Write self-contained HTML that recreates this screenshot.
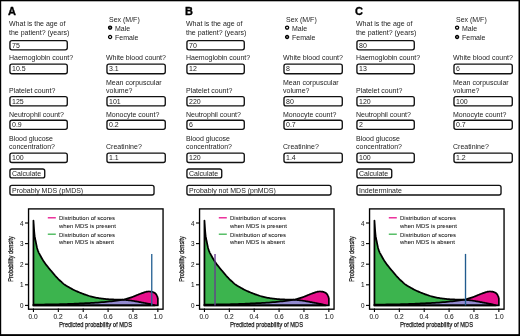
<!DOCTYPE html>
<html><head><meta charset="utf-8"><style>
html,body{margin:0;padding:0;background:#fff;}
body{width:520px;height:336px;position:relative;overflow:hidden;font-family:"Liberation Sans", sans-serif;}
.frame{position:absolute;left:0;top:0;width:520px;height:336px;box-sizing:border-box;border-style:solid;border-color:#000;border-width:1.3px 1.5px 1.9px 1.2px;}
.t{position:absolute;white-space:nowrap;will-change:transform;color:#1c1c1c;}
.v{}
.s{-webkit-text-stroke:0.05px #000;}
.a{-webkit-text-stroke:0.25px #000;}
.c{text-align:center;}
.b{position:absolute;box-sizing:border-box;border-style:solid;border-color:#111;background:#fff;}
.r{position:absolute;}
.ch{position:absolute;}
</style></head><body>
<svg style="position:absolute;left:0;top:0" width="520" height="336" viewBox="0 0 520 336"><rect x="0" y="0" width="520" height="1.3" fill="#000"/><rect x="0" y="0" width="1.2" height="336" fill="#000"/><rect x="518.5" y="0" width="1.5" height="336" fill="#000"/><rect x="0" y="334.15" width="520" height="1.85" fill="#000"/></svg>

<svg style="position:absolute;left:0;top:0" width="520" height="336" viewBox="0 0 520 336"><g fill="#fff" stroke="#111" stroke-width="1.35"><rect x="9.93" y="40.67" width="57.35" height="9.15" rx="2.0" ry="2.0"/><rect x="9.93" y="64.08" width="57.35" height="9.65" rx="2.0" ry="2.0"/><rect x="106.97" y="64.08" width="58.30" height="9.65" rx="2.0" ry="2.0"/><rect x="9.93" y="96.67" width="57.35" height="9.25" rx="2.0" ry="2.0"/><rect x="106.97" y="96.67" width="58.30" height="9.25" rx="2.0" ry="2.0"/><rect x="9.93" y="120.27" width="57.35" height="9.05" rx="2.0" ry="2.0"/><rect x="106.97" y="120.27" width="58.30" height="9.05" rx="2.0" ry="2.0"/><rect x="9.93" y="153.08" width="57.35" height="9.45" rx="2.0" ry="2.0"/><rect x="106.97" y="153.08" width="58.30" height="9.45" rx="2.0" ry="2.0"/><rect x="9.93" y="168.98" width="34.80" height="8.95" rx="2.0" ry="2.0"/><rect x="9.93" y="185.38" width="144.10" height="9.65" rx="2.0" ry="2.0"/><rect x="186.93" y="40.67" width="57.35" height="9.15" rx="2.0" ry="2.0"/><rect x="186.93" y="64.08" width="57.35" height="9.65" rx="2.0" ry="2.0"/><rect x="283.98" y="64.08" width="58.30" height="9.65" rx="2.0" ry="2.0"/><rect x="186.93" y="96.67" width="57.35" height="9.25" rx="2.0" ry="2.0"/><rect x="283.98" y="96.67" width="58.30" height="9.25" rx="2.0" ry="2.0"/><rect x="186.93" y="120.27" width="57.35" height="9.05" rx="2.0" ry="2.0"/><rect x="283.98" y="120.27" width="58.30" height="9.05" rx="2.0" ry="2.0"/><rect x="186.93" y="153.08" width="57.35" height="9.45" rx="2.0" ry="2.0"/><rect x="283.98" y="153.08" width="58.30" height="9.45" rx="2.0" ry="2.0"/><rect x="186.93" y="168.98" width="34.80" height="8.95" rx="2.0" ry="2.0"/><rect x="186.93" y="185.38" width="144.10" height="9.65" rx="2.0" ry="2.0"/><rect x="356.93" y="40.67" width="57.35" height="9.15" rx="2.0" ry="2.0"/><rect x="356.93" y="64.08" width="57.35" height="9.65" rx="2.0" ry="2.0"/><rect x="453.98" y="64.08" width="58.30" height="9.65" rx="2.0" ry="2.0"/><rect x="356.93" y="96.67" width="57.35" height="9.25" rx="2.0" ry="2.0"/><rect x="453.98" y="96.67" width="58.30" height="9.25" rx="2.0" ry="2.0"/><rect x="356.93" y="120.27" width="57.35" height="9.05" rx="2.0" ry="2.0"/><rect x="453.98" y="120.27" width="58.30" height="9.05" rx="2.0" ry="2.0"/><rect x="356.93" y="153.08" width="57.35" height="9.45" rx="2.0" ry="2.0"/><rect x="453.98" y="153.08" width="58.30" height="9.45" rx="2.0" ry="2.0"/><rect x="356.93" y="168.98" width="34.80" height="8.95" rx="2.0" ry="2.0"/><rect x="356.93" y="185.38" width="144.10" height="9.65" rx="2.0" ry="2.0"/></g></svg>
<div class="t " style="left:8.00px;top:5.99px;font-size:11px;line-height:11px;font-weight:bold;color:#000;-webkit-text-stroke:0.35px #000;">A</div>
<div class="t " style="left:9.25px;top:20.07px;font-size:7px;line-height:7px;font-weight:normal;color:#1c1c1c;">What is the age of</div>
<div class="t " style="left:9.25px;top:28.97px;font-size:7px;line-height:7px;font-weight:normal;color:#1c1c1c;">the patient? (years)</div>
<div class="t " style="left:108.80px;top:16.02px;font-size:7px;line-height:7px;font-weight:normal;color:#1c1c1c;">Sex (M/F)</div>
<svg class="r" style="left:107px;top:24px" width="7" height="7" viewBox="0 0 7 7"><circle cx="3.10" cy="3.60" r="1.55" fill="#777" stroke="#000" stroke-width="1.3"/></svg>
<div class="t " style="left:115.00px;top:25.00px;font-size:7px;line-height:7px;font-weight:normal;color:#1c1c1c;">Male</div>
<svg class="r" style="left:107px;top:34px" width="7" height="7" viewBox="0 0 7 7"><circle cx="3.10" cy="3.00" r="1.55" fill="#fff" stroke="#000" stroke-width="1.3"/></svg>
<div class="t " style="left:115.00px;top:33.77px;font-size:7px;line-height:7px;font-weight:normal;color:#1c1c1c;">Female</div>
<div class="t " style="left:9.25px;top:53.87px;font-size:7px;line-height:7px;font-weight:normal;color:#1c1c1c;">Haemoglobin count?</div>
<div class="t " style="left:9.25px;top:86.77px;font-size:7px;line-height:7px;font-weight:normal;color:#1c1c1c;">Platelet count?</div>
<div class="t " style="left:9.25px;top:110.77px;font-size:7px;line-height:7px;font-weight:normal;color:#1c1c1c;">Neutrophil count?</div>
<div class="t " style="left:9.25px;top:134.57px;font-size:7px;line-height:7px;font-weight:normal;color:#1c1c1c;">Blood glucose</div>
<div class="t " style="left:9.25px;top:143.07px;font-size:7px;line-height:7px;font-weight:normal;color:#1c1c1c;">concentration?</div>
<div class="t " style="left:106.30px;top:53.87px;font-size:7px;line-height:7px;font-weight:normal;color:#1c1c1c;">White blood count?</div>
<div class="t " style="left:106.30px;top:79.00px;font-size:7px;line-height:7px;font-weight:normal;color:#1c1c1c;">Mean corpuscular</div>
<div class="t " style="left:106.30px;top:86.82px;font-size:7px;line-height:7px;font-weight:normal;color:#1c1c1c;">volume?</div>
<div class="t " style="left:106.30px;top:110.77px;font-size:7px;line-height:7px;font-weight:normal;color:#1c1c1c;">Monocyte count?</div>
<div class="t " style="left:106.30px;top:142.77px;font-size:7px;line-height:7px;font-weight:normal;color:#1c1c1c;">Creatinine?</div>

<div class="t v" style="left:12.25px;top:41.67px;font-size:7px;line-height:7px;font-weight:normal;color:#1c1c1c;">75</div>

<div class="t v" style="left:12.25px;top:65.07px;font-size:7px;line-height:7px;font-weight:normal;color:#1c1c1c;">10.5</div>

<div class="t v" style="left:109.30px;top:65.07px;font-size:7px;line-height:7px;font-weight:normal;color:#1c1c1c;">3.1</div>

<div class="t v" style="left:12.25px;top:97.67px;font-size:7px;line-height:7px;font-weight:normal;color:#1c1c1c;">125</div>

<div class="t v" style="left:109.30px;top:97.67px;font-size:7px;line-height:7px;font-weight:normal;color:#1c1c1c;">101</div>

<div class="t v" style="left:12.25px;top:121.27px;font-size:7px;line-height:7px;font-weight:normal;color:#1c1c1c;">0.9</div>

<div class="t v" style="left:109.30px;top:121.27px;font-size:7px;line-height:7px;font-weight:normal;color:#1c1c1c;">0.2</div>

<div class="t v" style="left:12.25px;top:154.07px;font-size:7px;line-height:7px;font-weight:normal;color:#1c1c1c;">100</div>

<div class="t v" style="left:109.30px;top:154.07px;font-size:7px;line-height:7px;font-weight:normal;color:#1c1c1c;">1.1</div>

<div class="t v" style="left:12.25px;top:170.37px;font-size:7px;line-height:7px;font-weight:normal;color:#1c1c1c;">Calculate</div>

<div class="t v" style="left:12.25px;top:187.00px;font-size:7px;line-height:7px;font-weight:normal;color:#1c1c1c;">Probably MDS (pMDS)</div>
<div class="t " style="left:185.00px;top:5.99px;font-size:11px;line-height:11px;font-weight:bold;color:#000;-webkit-text-stroke:0.35px #000;">B</div>
<div class="t " style="left:186.25px;top:20.07px;font-size:7px;line-height:7px;font-weight:normal;color:#1c1c1c;">What is the age of</div>
<div class="t " style="left:186.25px;top:28.97px;font-size:7px;line-height:7px;font-weight:normal;color:#1c1c1c;">the patient? (years)</div>
<div class="t " style="left:285.80px;top:16.02px;font-size:7px;line-height:7px;font-weight:normal;color:#1c1c1c;">Sex (M/F)</div>
<svg class="r" style="left:284px;top:24px" width="7" height="7" viewBox="0 0 7 7"><circle cx="3.10" cy="3.60" r="1.55" fill="#fff" stroke="#000" stroke-width="1.3"/></svg>
<div class="t " style="left:292.00px;top:25.00px;font-size:7px;line-height:7px;font-weight:normal;color:#1c1c1c;">Male</div>
<svg class="r" style="left:284px;top:34px" width="7" height="7" viewBox="0 0 7 7"><circle cx="3.10" cy="3.00" r="1.55" fill="#777" stroke="#000" stroke-width="1.3"/></svg>
<div class="t " style="left:292.00px;top:33.77px;font-size:7px;line-height:7px;font-weight:normal;color:#1c1c1c;">Female</div>
<div class="t " style="left:186.25px;top:53.87px;font-size:7px;line-height:7px;font-weight:normal;color:#1c1c1c;">Haemoglobin count?</div>
<div class="t " style="left:186.25px;top:86.77px;font-size:7px;line-height:7px;font-weight:normal;color:#1c1c1c;">Platelet count?</div>
<div class="t " style="left:186.25px;top:110.77px;font-size:7px;line-height:7px;font-weight:normal;color:#1c1c1c;">Neutrophil count?</div>
<div class="t " style="left:186.25px;top:134.57px;font-size:7px;line-height:7px;font-weight:normal;color:#1c1c1c;">Blood glucose</div>
<div class="t " style="left:186.25px;top:143.07px;font-size:7px;line-height:7px;font-weight:normal;color:#1c1c1c;">concentration?</div>
<div class="t " style="left:283.30px;top:53.87px;font-size:7px;line-height:7px;font-weight:normal;color:#1c1c1c;">White blood count?</div>
<div class="t " style="left:283.30px;top:79.00px;font-size:7px;line-height:7px;font-weight:normal;color:#1c1c1c;">Mean corpuscular</div>
<div class="t " style="left:283.30px;top:86.82px;font-size:7px;line-height:7px;font-weight:normal;color:#1c1c1c;">volume?</div>
<div class="t " style="left:283.30px;top:110.77px;font-size:7px;line-height:7px;font-weight:normal;color:#1c1c1c;">Monocyte count?</div>
<div class="t " style="left:283.30px;top:142.77px;font-size:7px;line-height:7px;font-weight:normal;color:#1c1c1c;">Creatinine?</div>

<div class="t v" style="left:189.25px;top:41.67px;font-size:7px;line-height:7px;font-weight:normal;color:#1c1c1c;">70</div>

<div class="t v" style="left:189.25px;top:65.07px;font-size:7px;line-height:7px;font-weight:normal;color:#1c1c1c;">12</div>

<div class="t v" style="left:286.30px;top:65.07px;font-size:7px;line-height:7px;font-weight:normal;color:#1c1c1c;">8</div>

<div class="t v" style="left:189.25px;top:97.67px;font-size:7px;line-height:7px;font-weight:normal;color:#1c1c1c;">220</div>

<div class="t v" style="left:286.30px;top:97.67px;font-size:7px;line-height:7px;font-weight:normal;color:#1c1c1c;">80</div>

<div class="t v" style="left:189.25px;top:121.27px;font-size:7px;line-height:7px;font-weight:normal;color:#1c1c1c;">6</div>

<div class="t v" style="left:286.30px;top:121.27px;font-size:7px;line-height:7px;font-weight:normal;color:#1c1c1c;">0.7</div>

<div class="t v" style="left:189.25px;top:154.07px;font-size:7px;line-height:7px;font-weight:normal;color:#1c1c1c;">120</div>

<div class="t v" style="left:286.30px;top:154.07px;font-size:7px;line-height:7px;font-weight:normal;color:#1c1c1c;">1.4</div>

<div class="t v" style="left:189.25px;top:170.37px;font-size:7px;line-height:7px;font-weight:normal;color:#1c1c1c;">Calculate</div>

<div class="t v" style="left:189.25px;top:187.00px;font-size:7px;line-height:7px;font-weight:normal;color:#1c1c1c;">Probably not MDS (pnMDS)</div>
<div class="t " style="left:355.00px;top:5.99px;font-size:11px;line-height:11px;font-weight:bold;color:#000;-webkit-text-stroke:0.35px #000;">C</div>
<div class="t " style="left:356.25px;top:20.07px;font-size:7px;line-height:7px;font-weight:normal;color:#1c1c1c;">What is the age of</div>
<div class="t " style="left:356.25px;top:28.97px;font-size:7px;line-height:7px;font-weight:normal;color:#1c1c1c;">the patient? (years)</div>
<div class="t " style="left:455.80px;top:16.02px;font-size:7px;line-height:7px;font-weight:normal;color:#1c1c1c;">Sex (M/F)</div>
<svg class="r" style="left:454px;top:24px" width="7" height="7" viewBox="0 0 7 7"><circle cx="3.10" cy="3.60" r="1.55" fill="#fff" stroke="#000" stroke-width="1.3"/></svg>
<div class="t " style="left:462.00px;top:25.00px;font-size:7px;line-height:7px;font-weight:normal;color:#1c1c1c;">Male</div>
<svg class="r" style="left:454px;top:34px" width="7" height="7" viewBox="0 0 7 7"><circle cx="3.10" cy="3.00" r="1.55" fill="#777" stroke="#000" stroke-width="1.3"/></svg>
<div class="t " style="left:462.00px;top:33.77px;font-size:7px;line-height:7px;font-weight:normal;color:#1c1c1c;">Female</div>
<div class="t " style="left:356.25px;top:53.87px;font-size:7px;line-height:7px;font-weight:normal;color:#1c1c1c;">Haemoglobin count?</div>
<div class="t " style="left:356.25px;top:86.77px;font-size:7px;line-height:7px;font-weight:normal;color:#1c1c1c;">Platelet count?</div>
<div class="t " style="left:356.25px;top:110.77px;font-size:7px;line-height:7px;font-weight:normal;color:#1c1c1c;">Neutrophil count?</div>
<div class="t " style="left:356.25px;top:134.57px;font-size:7px;line-height:7px;font-weight:normal;color:#1c1c1c;">Blood glucose</div>
<div class="t " style="left:356.25px;top:143.07px;font-size:7px;line-height:7px;font-weight:normal;color:#1c1c1c;">concentration?</div>
<div class="t " style="left:453.30px;top:53.87px;font-size:7px;line-height:7px;font-weight:normal;color:#1c1c1c;">White blood count?</div>
<div class="t " style="left:453.30px;top:79.00px;font-size:7px;line-height:7px;font-weight:normal;color:#1c1c1c;">Mean corpuscular</div>
<div class="t " style="left:453.30px;top:86.82px;font-size:7px;line-height:7px;font-weight:normal;color:#1c1c1c;">volume?</div>
<div class="t " style="left:453.30px;top:110.77px;font-size:7px;line-height:7px;font-weight:normal;color:#1c1c1c;">Monocyte count?</div>
<div class="t " style="left:453.30px;top:142.77px;font-size:7px;line-height:7px;font-weight:normal;color:#1c1c1c;">Creatinine?</div>

<div class="t v" style="left:359.25px;top:41.67px;font-size:7px;line-height:7px;font-weight:normal;color:#1c1c1c;">80</div>

<div class="t v" style="left:359.25px;top:65.07px;font-size:7px;line-height:7px;font-weight:normal;color:#1c1c1c;">13</div>

<div class="t v" style="left:456.30px;top:65.07px;font-size:7px;line-height:7px;font-weight:normal;color:#1c1c1c;">6</div>

<div class="t v" style="left:359.25px;top:97.67px;font-size:7px;line-height:7px;font-weight:normal;color:#1c1c1c;">120</div>

<div class="t v" style="left:456.30px;top:97.67px;font-size:7px;line-height:7px;font-weight:normal;color:#1c1c1c;">100</div>

<div class="t v" style="left:359.25px;top:121.27px;font-size:7px;line-height:7px;font-weight:normal;color:#1c1c1c;">2</div>

<div class="t v" style="left:456.30px;top:121.27px;font-size:7px;line-height:7px;font-weight:normal;color:#1c1c1c;">0.7</div>

<div class="t v" style="left:359.25px;top:154.07px;font-size:7px;line-height:7px;font-weight:normal;color:#1c1c1c;">100</div>

<div class="t v" style="left:456.30px;top:154.07px;font-size:7px;line-height:7px;font-weight:normal;color:#1c1c1c;">1.2</div>

<div class="t v" style="left:359.25px;top:170.37px;font-size:7px;line-height:7px;font-weight:normal;color:#1c1c1c;">Calculate</div>

<div class="t v" style="left:359.25px;top:187.00px;font-size:7px;line-height:7px;font-weight:normal;color:#1c1c1c;">Indeterminate</div>

<svg class="ch" style="left:0px;top:0px" width="175" height="336" viewBox="0 0 175 336"><rect x="28.55" y="208.9" width="134.5" height="100.3" fill="none" stroke="#000" stroke-width="1.35"/><path d="M33.45,305.40 L33.45,220.53 L33.49,221.14 L33.55,221.99 L33.61,222.99 L33.68,224.06 L33.76,225.12 L33.82,226.09 L33.88,226.97 L33.94,227.84 L34.00,228.70 L34.06,229.55 L34.13,230.40 L34.20,231.24 L34.26,232.06 L34.33,232.85 L34.39,233.63 L34.47,234.44 L34.57,235.28 L34.69,236.18 L34.86,237.17 L35.05,238.23 L35.27,239.33 L35.50,240.43 L35.72,241.52 L35.94,242.57 L36.15,243.59 L36.35,244.62 L36.56,245.63 L36.77,246.61 L36.97,247.51 L37.18,248.34 L37.39,249.06 L37.60,249.71 L37.80,250.29 L38.01,250.83 L38.22,251.34 L38.43,251.84 L38.61,252.28 L38.77,252.63 L38.93,252.95 L39.12,253.30 L39.35,253.73 L39.67,254.31 L40.08,255.07 L40.57,255.98 L41.11,256.96 L41.67,257.98 L42.24,258.97 L42.78,259.87 L43.30,260.70 L43.82,261.48 L44.34,262.24 L44.85,262.98 L45.37,263.70 L45.89,264.41 L46.41,265.10 L46.93,265.76 L47.45,266.41 L47.96,267.05 L48.48,267.69 L49.00,268.32 L49.52,268.95 L50.04,269.57 L50.55,270.19 L51.07,270.80 L51.59,271.41 L52.11,272.03 L52.63,272.65 L53.15,273.28 L53.66,273.91 L54.18,274.53 L54.70,275.14 L55.22,275.74 L55.74,276.31 L56.26,276.88 L56.77,277.44 L57.29,277.98 L57.81,278.51 L58.33,279.03 L58.85,279.54 L59.37,280.03 L59.89,280.51 L60.40,280.99 L60.92,281.45 L61.44,281.92 L61.92,282.36 L62.36,282.79 L62.80,283.20 L63.28,283.63 L63.85,284.09 L64.55,284.59 L65.41,285.16 L66.39,285.78 L67.47,286.42 L68.58,287.07 L69.70,287.71 L70.77,288.30 L71.81,288.86 L72.84,289.40 L73.88,289.92 L74.92,290.43 L75.95,290.92 L76.99,291.39 L78.03,291.85 L79.06,292.29 L80.10,292.72 L81.14,293.13 L82.17,293.53 L83.21,293.93 L84.25,294.31 L85.28,294.68 L86.32,295.04 L87.36,295.38 L88.39,295.71 L89.43,296.03 L90.47,296.32 L91.50,296.60 L92.54,296.87 L93.58,297.12 L94.61,297.35 L95.65,297.57 L96.69,297.78 L97.72,297.97 L98.76,298.14 L99.80,298.31 L100.83,298.46 L101.87,298.60 L102.91,298.73 L103.94,298.85 L104.98,298.96 L106.02,299.05 L107.05,299.14 L108.09,299.22 L109.13,299.29 L110.16,299.35 L111.20,299.40 L112.24,299.45 L113.27,299.49 L114.31,299.53 L115.36,299.56 L116.43,299.58 L117.50,299.60 L118.55,299.62 L119.57,299.64 L120.53,299.67 L121.43,299.71 L122.28,299.74 L123.10,299.78 L123.89,299.83 L124.69,299.88 L125.51,299.94 L126.34,300.01 L127.16,300.10 L127.99,300.19 L128.82,300.28 L129.65,300.39 L130.48,300.50 L131.31,300.61 L132.14,300.74 L132.97,300.87 L133.80,301.00 L134.63,301.14 L135.46,301.28 L136.29,301.43 L137.12,301.58 L137.95,301.73 L138.78,301.89 L139.60,302.05 L140.43,302.21 L141.28,302.36 L142.14,302.52 L143.00,302.68 L143.84,302.84 L144.65,302.99 L145.41,303.13 L146.11,303.27 L146.77,303.39 L147.39,303.51 L147.99,303.62 L148.57,303.74 L149.14,303.85 L149.70,303.97 L150.25,304.09 L150.77,304.21 L151.28,304.33 L151.78,304.45 L152.25,304.58 L152.73,304.72 L153.22,304.87 L153.69,305.03 L154.12,305.18 L154.48,305.31 L154.74,305.40 Z" fill="#3cb44e"/><path d="M33.45,305.40 L33.45,304.58 L34.80,304.57 L36.68,304.55 L38.89,304.54 L41.28,304.52 L43.67,304.50 L45.89,304.47 L47.99,304.45 L50.13,304.42 L52.27,304.38 L54.37,304.35 L56.40,304.31 L58.33,304.27 L60.13,304.22 L61.83,304.18 L63.46,304.13 L65.06,304.07 L66.65,304.02 L68.28,303.96 L69.93,303.90 L71.55,303.83 L73.18,303.76 L74.82,303.69 L76.50,303.62 L78.23,303.55 L80.01,303.47 L81.83,303.39 L83.68,303.31 L85.56,303.23 L87.48,303.14 L89.43,303.03 L91.45,302.92 L93.53,302.79 L95.65,302.66 L97.77,302.52 L99.85,302.37 L101.87,302.21 L103.82,302.04 L105.74,301.86 L107.62,301.68 L109.47,301.49 L111.29,301.28 L113.07,301.07 L114.85,300.85 L116.66,300.61 L118.43,300.36 L120.12,300.11 L121.66,299.86 L123.02,299.63 L124.14,299.42 L125.05,299.22 L125.82,299.03 L126.52,298.83 L127.22,298.62 L127.99,298.40 L128.82,298.15 L129.65,297.89 L130.48,297.62 L131.31,297.34 L132.14,297.05 L132.97,296.75 L133.80,296.43 L134.63,296.08 L135.46,295.73 L136.29,295.37 L137.12,295.02 L137.95,294.69 L138.79,294.36 L139.65,294.03 L140.51,293.70 L141.36,293.39 L142.16,293.10 L142.92,292.83 L143.63,292.59 L144.30,292.37 L144.94,292.16 L145.55,291.98 L146.12,291.83 L146.65,291.70 L147.14,291.61 L147.58,291.55 L147.98,291.51 L148.36,291.50 L148.74,291.49 L149.14,291.49 L149.56,291.50 L149.97,291.51 L150.39,291.53 L150.80,291.56 L151.22,291.62 L151.63,291.70 L152.05,291.81 L152.48,291.94 L152.91,292.09 L153.33,292.25 L153.74,292.44 L154.12,292.63 L154.47,292.83 L154.81,293.04 L155.13,293.27 L155.43,293.51 L155.72,293.78 L155.98,294.07 L156.24,294.43 L156.49,294.85 L156.72,295.29 L156.93,295.72 L157.10,296.08 L157.23,296.34 L157.85,298.60 L157.85,305.40 Z" fill="#e8108c"/><path d="M33.45,305.40 L33.45,304.58 L33.49,304.58 L33.55,304.58 L33.61,304.57 L33.68,304.57 L33.76,304.57 L33.76,304.57 L33.82,304.57 L33.88,304.57 L33.94,304.57 L34.00,304.57 L34.06,304.57 L34.07,304.57 L34.13,304.57 L34.20,304.57 L34.26,304.57 L34.33,304.57 L34.38,304.57 L34.39,304.57 L34.47,304.57 L34.57,304.57 L34.69,304.57 L34.69,304.57 L34.80,304.57 L34.86,304.57 L35.01,304.56 L35.05,304.56 L35.27,304.56 L35.32,304.56 L35.50,304.56 L35.63,304.56 L35.72,304.56 L35.94,304.56 L35.94,304.56 L36.15,304.56 L36.25,304.56 L36.35,304.56 L36.56,304.55 L36.56,304.55 L36.68,304.55 L36.77,304.55 L36.87,304.55 L36.97,304.55 L37.18,304.55 L37.18,304.55 L37.39,304.55 L37.49,304.55 L37.60,304.55 L37.80,304.55 L37.80,304.55 L38.01,304.54 L38.12,304.54 L38.22,304.54 L38.43,304.54 L38.43,304.54 L38.61,304.54 L38.74,304.54 L38.77,304.54 L38.89,304.54 L38.93,304.54 L39.05,304.54 L39.12,304.54 L39.35,304.53 L39.36,304.53 L39.67,304.53 L39.67,304.53 L39.98,304.53 L40.08,304.53 L40.29,304.53 L40.57,304.52 L40.60,304.52 L40.91,304.52 L41.11,304.52 L41.23,304.52 L41.28,304.52 L41.54,304.52 L41.67,304.52 L41.85,304.51 L42.16,304.51 L42.24,304.51 L42.47,304.51 L42.78,304.51 L42.78,304.51 L43.09,304.50 L43.30,304.50 L43.40,304.50 L43.67,304.50 L43.71,304.50 L43.82,304.50 L44.02,304.49 L44.34,304.49 L44.34,304.49 L44.65,304.49 L44.85,304.48 L44.96,304.48 L45.27,304.48 L45.37,304.48 L45.58,304.48 L45.89,304.47 L45.89,304.47 L45.89,304.47 L46.20,304.47 L46.41,304.47 L46.51,304.46 L46.82,304.46 L46.93,304.46 L47.13,304.46 L47.45,304.45 L47.45,304.45 L47.76,304.45 L47.96,304.45 L47.99,304.45 L48.07,304.44 L48.38,304.44 L48.48,304.44 L48.69,304.44 L49.00,304.43 L49.00,304.43 L49.31,304.43 L49.52,304.42 L49.62,304.42 L49.93,304.42 L50.04,304.42 L50.13,304.42 L50.24,304.41 L50.55,304.41 L50.56,304.41 L50.87,304.40 L51.07,304.40 L51.18,304.40 L51.49,304.39 L51.59,304.39 L51.80,304.39 L52.11,304.39 L52.11,304.39 L52.27,304.38 L52.42,304.38 L52.63,304.38 L52.73,304.37 L53.04,304.37 L53.15,304.37 L53.35,304.36 L53.66,304.36 L53.67,304.36 L53.98,304.35 L54.18,304.35 L54.29,304.35 L54.37,304.35 L54.60,304.34 L54.70,304.34 L54.91,304.34 L55.22,304.33 L55.22,304.33 L55.53,304.33 L55.74,304.32 L55.84,304.32 L56.15,304.31 L56.26,304.31 L56.40,304.31 L56.46,304.31 L56.77,304.30 L56.78,304.30 L57.09,304.29 L57.29,304.29 L57.40,304.29 L57.71,304.28 L57.81,304.28 L58.02,304.27 L58.33,304.27 L58.33,304.27 L58.33,304.27 L58.64,304.26 L58.85,304.25 L58.95,304.25 L59.26,304.24 L59.37,304.24 L59.57,304.24 L59.89,304.23 L59.89,304.23 L60.13,304.22 L60.20,304.22 L60.40,304.22 L60.51,304.21 L60.82,304.20 L60.92,304.20 L61.13,304.19 L61.44,304.19 L61.44,304.19 L61.75,304.18 L61.83,304.18 L61.92,304.17 L62.06,304.17 L62.36,304.16 L62.37,304.16 L62.68,304.15 L62.80,304.15 L63.00,304.14 L63.28,304.13 L63.31,304.13 L63.46,304.13 L63.62,304.12 L63.85,304.11 L63.93,304.11 L64.24,304.10 L64.55,304.09 L64.55,304.09 L64.86,304.08 L65.06,304.07 L65.17,304.07 L65.41,304.06 L65.48,304.06 L65.79,304.05 L66.11,304.04 L66.39,304.03 L66.42,304.02 L66.65,304.02 L66.73,304.01 L67.04,304.00 L67.35,303.99 L67.47,303.99 L67.66,303.98 L67.97,303.97 L68.28,303.96 L68.58,303.95 L68.59,303.95 L68.90,303.93 L69.22,303.92 L69.53,303.91 L69.70,303.91 L69.84,303.90 L69.93,303.90 L70.15,303.89 L70.46,303.88 L70.77,303.86 L70.77,303.86 L71.08,303.85 L71.39,303.84 L71.55,303.83 L71.70,303.83 L71.81,303.82 L72.01,303.81 L72.33,303.80 L72.64,303.79 L72.84,303.78 L72.95,303.77 L73.18,303.76 L73.26,303.76 L73.57,303.75 L73.88,303.74 L73.88,303.74 L74.19,303.72 L74.50,303.71 L74.81,303.70 L74.82,303.69 L74.92,303.69 L75.12,303.68 L75.44,303.67 L75.75,303.65 L75.95,303.65 L76.06,303.64 L76.37,303.63 L76.50,303.62 L76.68,303.61 L76.99,303.60 L76.99,303.60 L77.30,303.59 L77.61,303.57 L77.92,303.56 L78.03,303.56 L78.23,303.55 L78.23,303.55 L78.55,303.53 L78.86,303.52 L79.06,303.51 L79.17,303.51 L79.48,303.49 L79.79,303.48 L80.01,303.47 L80.10,303.47 L80.10,303.47 L80.41,303.45 L80.72,303.44 L81.03,303.43 L81.14,303.42 L81.34,303.41 L81.66,303.40 L81.83,303.39 L81.97,303.39 L82.17,303.38 L82.28,303.37 L82.59,303.36 L82.90,303.35 L83.21,303.33 L83.52,303.32 L83.68,303.31 L83.83,303.31 L84.14,303.29 L84.25,303.29 L84.45,303.28 L84.77,303.27 L85.08,303.25 L85.28,303.24 L85.39,303.24 L85.56,303.23 L85.70,303.22 L86.01,303.21 L86.32,303.19 L86.32,303.19 L86.63,303.18 L86.94,303.16 L87.25,303.15 L87.36,303.14 L87.48,303.14 L87.56,303.13 L87.88,303.11 L88.19,303.10 L88.39,303.09 L88.50,303.08 L88.81,303.06 L89.12,303.05 L89.43,303.03 L89.43,303.03 L89.74,303.01 L90.05,303.00 L90.36,302.98 L90.47,302.97 L90.67,302.96 L90.99,302.94 L91.30,302.92 L91.45,302.92 L91.50,302.91 L91.61,302.91 L91.92,302.89 L92.23,302.87 L92.54,302.85 L92.54,302.85 L92.85,302.83 L93.16,302.81 L93.47,302.79 L93.53,302.79 L93.58,302.79 L93.78,302.77 L94.09,302.76 L94.41,302.74 L94.61,302.72 L94.72,302.72 L95.03,302.70 L95.34,302.68 L95.65,302.66 L95.65,302.66 L95.96,302.64 L96.27,302.62 L96.58,302.60 L96.69,302.59 L96.89,302.57 L97.20,302.55 L97.52,302.53 L97.72,302.52 L97.77,302.52 L97.83,302.51 L98.14,302.49 L98.45,302.47 L98.76,302.44 L99.07,302.42 L99.38,302.40 L99.69,302.38 L99.80,302.37 L99.85,302.37 L100.00,302.35 L100.31,302.33 L100.63,302.30 L100.83,302.29 L100.94,302.28 L101.25,302.26 L101.56,302.23 L101.87,302.21 L101.87,302.21 L101.87,302.21 L102.18,302.18 L102.49,302.15 L102.80,302.13 L102.91,302.12 L103.11,302.10 L103.43,302.07 L103.74,302.05 L103.82,302.04 L103.94,302.03 L104.05,302.02 L104.36,301.99 L104.67,301.96 L104.98,301.93 L105.29,301.90 L105.60,301.88 L105.74,301.86 L105.91,301.85 L106.02,301.84 L106.22,301.82 L106.54,301.79 L106.85,301.76 L107.05,301.73 L107.16,301.72 L107.47,301.69 L107.62,301.68 L107.78,301.66 L108.09,301.63 L108.09,301.63 L108.40,301.60 L108.71,301.57 L109.02,301.53 L109.13,301.52 L109.33,301.50 L109.47,301.49 L109.65,301.47 L109.96,301.43 L110.16,301.41 L110.27,301.40 L110.58,301.36 L110.89,301.33 L111.20,301.29 L111.29,301.28 L111.51,301.26 L111.82,301.22 L112.13,301.18 L112.24,301.17 L112.44,301.15 L112.75,301.11 L113.07,301.07 L113.07,301.07 L113.27,301.05 L113.38,301.03 L113.69,301.00 L114.00,300.96 L114.31,300.92 L114.31,300.92 L114.62,300.88 L114.85,300.85 L114.93,300.84 L115.24,300.80 L115.36,300.78 L115.55,300.76 L115.87,300.71 L116.18,300.67 L116.43,300.64 L116.49,300.63 L116.66,300.61 L116.80,300.59 L117.11,300.55 L117.42,300.50 L117.50,300.49 L117.73,300.46 L118.04,300.41 L118.35,300.37 L118.43,300.36 L118.55,300.34 L118.66,300.32 L118.98,300.28 L119.29,300.23 L119.57,300.19 L119.60,300.19 L119.91,300.14 L120.12,300.11 L120.22,300.09 L120.53,300.04 L120.53,300.04 L120.84,299.99 L121.15,299.94 L121.43,299.90 L121.46,299.90 L121.66,299.86 L121.77,299.84 L122.09,299.79 L122.28,299.76 L122.40,299.75 L122.71,299.76 L123.02,299.78 L123.10,299.78 L123.33,299.79 L123.64,299.81 L123.89,299.83 L123.95,299.83 L124.14,299.84 L124.26,299.85 L124.57,299.87 L124.69,299.88 L124.88,299.89 L125.05,299.91 L125.20,299.92 L125.51,299.94 L125.51,299.94 L125.82,299.97 L125.82,299.97 L126.13,300.00 L126.34,300.01 L126.44,300.02 L126.52,300.03 L126.75,300.06 L127.06,300.09 L127.16,300.10 L127.22,300.10 L127.37,300.12 L127.68,300.15 L127.99,300.19 L127.99,300.19 L128.31,300.22 L128.62,300.26 L128.82,300.28 L128.82,300.28 L128.93,300.30 L129.24,300.34 L129.55,300.38 L129.65,300.39 L129.65,300.39 L129.86,300.42 L130.17,300.46 L130.48,300.50 L130.48,300.50 L130.48,300.50 L130.79,300.54 L131.10,300.58 L131.31,300.61 L131.31,300.61 L131.42,300.63 L131.73,300.67 L132.04,300.72 L132.14,300.74 L132.14,300.74 L132.35,300.77 L132.66,300.82 L132.97,300.87 L132.97,300.87 L132.97,300.87 L133.28,300.92 L133.59,300.97 L133.80,301.00 L133.80,301.00 L133.90,301.02 L134.21,301.07 L134.53,301.12 L134.63,301.14 L134.84,301.17 L135.15,301.23 L135.46,301.28 L135.46,301.28 L135.77,301.33 L136.08,301.39 L136.29,301.43 L136.29,301.43 L136.39,301.45 L136.70,301.50 L137.01,301.56 L137.12,301.58 L137.32,301.62 L137.63,301.68 L137.95,301.73 L137.95,301.73 L138.26,301.79 L138.57,301.85 L138.78,301.89 L138.79,301.90 L138.88,301.91 L139.19,301.97 L139.50,302.03 L139.60,302.05 L139.65,302.06 L139.81,302.09 L140.12,302.15 L140.43,302.21 L140.43,302.21 L140.51,302.22 L140.75,302.26 L141.06,302.32 L141.28,302.36 L141.36,302.38 L141.37,302.38 L141.68,302.44 L141.99,302.50 L142.14,302.52 L142.16,302.53 L142.30,302.55 L142.61,302.61 L142.92,302.67 L142.92,302.67 L143.00,302.68 L143.23,302.73 L143.54,302.78 L143.63,302.80 L143.84,302.84 L143.86,302.84 L144.17,302.90 L144.30,302.93 L144.48,302.96 L144.65,302.99 L144.79,303.02 L144.94,303.05 L145.10,303.08 L145.41,303.13 L145.41,303.13 L145.55,303.16 L145.72,303.19 L146.03,303.25 L146.11,303.27 L146.12,303.27 L146.34,303.31 L146.65,303.37 L146.65,303.37 L146.77,303.39 L146.97,303.43 L147.14,303.46 L147.28,303.49 L147.39,303.51 L147.58,303.54 L147.59,303.54 L147.90,303.60 L147.98,303.62 L147.99,303.62 L148.21,303.67 L148.36,303.70 L148.52,303.73 L148.57,303.74 L148.74,303.77 L148.83,303.79 L149.14,303.85 L149.14,303.85 L149.14,303.85 L149.45,303.92 L149.56,303.94 L149.70,303.97 L149.76,303.99 L149.97,304.03 L150.07,304.05 L150.25,304.09 L150.39,304.12 L150.70,304.19 L150.77,304.21 L150.80,304.22 L151.01,304.26 L151.22,304.31 L151.28,304.33 L151.32,304.34 L151.63,304.41 L151.63,304.41 L151.78,304.45 L151.94,304.49 L152.05,304.52 L152.25,304.58 L152.25,304.58 L152.48,304.64 L152.56,304.67 L152.73,304.72 L152.87,304.76 L152.91,304.78 L153.19,304.86 L153.22,304.87 L153.33,304.91 L153.50,304.97 L153.69,305.03 L153.74,305.05 L153.81,305.07 L154.12,305.18 L154.12,305.18 L154.12,305.18 L154.43,305.29 L154.47,305.31 L154.48,305.31 L154.74,305.40 L154.74,305.40 Z" fill="#928acf"/><path d="M33.45,305.40 L33.45,220.53 L33.49,221.14 L33.55,221.99 L33.61,222.99 L33.68,224.06 L33.76,225.12 L33.82,226.09 L33.88,226.97 L33.94,227.84 L34.00,228.70 L34.06,229.55 L34.13,230.40 L34.20,231.24 L34.26,232.06 L34.33,232.85 L34.39,233.63 L34.47,234.44 L34.57,235.28 L34.69,236.18 L34.86,237.17 L35.05,238.23 L35.27,239.33 L35.50,240.43 L35.72,241.52 L35.94,242.57 L36.15,243.59 L36.35,244.62 L36.56,245.63 L36.77,246.61 L36.97,247.51 L37.18,248.34 L37.39,249.06 L37.60,249.71 L37.80,250.29 L38.01,250.83 L38.22,251.34 L38.43,251.84 L38.61,252.28 L38.77,252.63 L38.93,252.95 L39.12,253.30 L39.35,253.73 L39.67,254.31 L40.08,255.07 L40.57,255.98 L41.11,256.96 L41.67,257.98 L42.24,258.97 L42.78,259.87 L43.30,260.70 L43.82,261.48 L44.34,262.24 L44.85,262.98 L45.37,263.70 L45.89,264.41 L46.41,265.10 L46.93,265.76 L47.45,266.41 L47.96,267.05 L48.48,267.69 L49.00,268.32 L49.52,268.95 L50.04,269.57 L50.55,270.19 L51.07,270.80 L51.59,271.41 L52.11,272.03 L52.63,272.65 L53.15,273.28 L53.66,273.91 L54.18,274.53 L54.70,275.14 L55.22,275.74 L55.74,276.31 L56.26,276.88 L56.77,277.44 L57.29,277.98 L57.81,278.51 L58.33,279.03 L58.85,279.54 L59.37,280.03 L59.89,280.51 L60.40,280.99 L60.92,281.45 L61.44,281.92 L61.92,282.36 L62.36,282.79 L62.80,283.20 L63.28,283.63 L63.85,284.09 L64.55,284.59 L65.41,285.16 L66.39,285.78 L67.47,286.42 L68.58,287.07 L69.70,287.71 L70.77,288.30 L71.81,288.86 L72.84,289.40 L73.88,289.92 L74.92,290.43 L75.95,290.92 L76.99,291.39 L78.03,291.85 L79.06,292.29 L80.10,292.72 L81.14,293.13 L82.17,293.53 L83.21,293.93 L84.25,294.31 L85.28,294.68 L86.32,295.04 L87.36,295.38 L88.39,295.71 L89.43,296.03 L90.47,296.32 L91.50,296.60 L92.54,296.87 L93.58,297.12 L94.61,297.35 L95.65,297.57 L96.69,297.78 L97.72,297.97 L98.76,298.14 L99.80,298.31 L100.83,298.46 L101.87,298.60 L102.91,298.73 L103.94,298.85 L104.98,298.96 L106.02,299.05 L107.05,299.14 L108.09,299.22 L109.13,299.29 L110.16,299.35 L111.20,299.40 L112.24,299.45 L113.27,299.49 L114.31,299.53 L115.36,299.56 L116.43,299.58 L117.50,299.60 L118.55,299.62 L119.57,299.64 L120.53,299.67 L121.43,299.71 L122.28,299.74 L123.10,299.78 L123.89,299.83 L124.69,299.88 L125.51,299.94 L126.34,300.01 L127.16,300.10 L127.99,300.19 L128.82,300.28 L129.65,300.39 L130.48,300.50 L131.31,300.61 L132.14,300.74 L132.97,300.87 L133.80,301.00 L134.63,301.14 L135.46,301.28 L136.29,301.43 L137.12,301.58 L137.95,301.73 L138.78,301.89 L139.60,302.05 L140.43,302.21 L141.28,302.36 L142.14,302.52 L143.00,302.68 L143.84,302.84 L144.65,302.99 L145.41,303.13 L146.11,303.27 L146.77,303.39 L147.39,303.51 L147.99,303.62 L148.57,303.74 L149.14,303.85 L149.70,303.97 L150.25,304.09 L150.77,304.21 L151.28,304.33 L151.78,304.45 L152.25,304.58 L152.73,304.72 L153.22,304.87 L153.69,305.03 L154.12,305.18 L154.48,305.31 L154.74,305.40 Z" fill="none" stroke="#000" stroke-width="1.75" stroke-linejoin="round"/><path d="M33.45,305.40 L33.45,304.58 L34.80,304.57 L36.68,304.55 L38.89,304.54 L41.28,304.52 L43.67,304.50 L45.89,304.47 L47.99,304.45 L50.13,304.42 L52.27,304.38 L54.37,304.35 L56.40,304.31 L58.33,304.27 L60.13,304.22 L61.83,304.18 L63.46,304.13 L65.06,304.07 L66.65,304.02 L68.28,303.96 L69.93,303.90 L71.55,303.83 L73.18,303.76 L74.82,303.69 L76.50,303.62 L78.23,303.55 L80.01,303.47 L81.83,303.39 L83.68,303.31 L85.56,303.23 L87.48,303.14 L89.43,303.03 L91.45,302.92 L93.53,302.79 L95.65,302.66 L97.77,302.52 L99.85,302.37 L101.87,302.21 L103.82,302.04 L105.74,301.86 L107.62,301.68 L109.47,301.49 L111.29,301.28 L113.07,301.07 L114.85,300.85 L116.66,300.61 L118.43,300.36 L120.12,300.11 L121.66,299.86 L123.02,299.63 L124.14,299.42 L125.05,299.22 L125.82,299.03 L126.52,298.83 L127.22,298.62 L127.99,298.40 L128.82,298.15 L129.65,297.89 L130.48,297.62 L131.31,297.34 L132.14,297.05 L132.97,296.75 L133.80,296.43 L134.63,296.08 L135.46,295.73 L136.29,295.37 L137.12,295.02 L137.95,294.69 L138.79,294.36 L139.65,294.03 L140.51,293.70 L141.36,293.39 L142.16,293.10 L142.92,292.83 L143.63,292.59 L144.30,292.37 L144.94,292.16 L145.55,291.98 L146.12,291.83 L146.65,291.70 L147.14,291.61 L147.58,291.55 L147.98,291.51 L148.36,291.50 L148.74,291.49 L149.14,291.49 L149.56,291.50 L149.97,291.51 L150.39,291.53 L150.80,291.56 L151.22,291.62 L151.63,291.70 L152.05,291.81 L152.48,291.94 L152.91,292.09 L153.33,292.25 L153.74,292.44 L154.12,292.63 L154.47,292.83 L154.81,293.04 L155.13,293.27 L155.43,293.51 L155.72,293.78 L155.98,294.07 L156.24,294.43 L156.49,294.85 L156.72,295.29 L156.93,295.72 L157.10,296.08 L157.23,296.34 L157.85,298.60 L157.85,305.40 Z" fill="none" stroke="#000" stroke-width="1.75" stroke-linejoin="round"/><line x1="151.75" y1="253.90" x2="151.75" y2="305.40" stroke="#2a6496" stroke-width="1.35"/><line x1="25" y1="305.40" x2="28.5" y2="305.40" stroke="#000" stroke-width="1.1"/><line x1="25" y1="284.80" x2="28.5" y2="284.80" stroke="#000" stroke-width="1.1"/><line x1="25" y1="264.20" x2="28.5" y2="264.20" stroke="#000" stroke-width="1.1"/><line x1="25" y1="243.60" x2="28.5" y2="243.60" stroke="#000" stroke-width="1.1"/><line x1="25" y1="223.00" x2="28.5" y2="223.00" stroke="#000" stroke-width="1.1"/><line x1="33.45" y1="308.5" x2="33.45" y2="312" stroke="#000" stroke-width="1.1"/><line x1="58.33" y1="308.5" x2="58.33" y2="312" stroke="#000" stroke-width="1.1"/><line x1="83.21" y1="308.5" x2="83.21" y2="312" stroke="#000" stroke-width="1.1"/><line x1="108.09" y1="308.5" x2="108.09" y2="312" stroke="#000" stroke-width="1.1"/><line x1="132.97" y1="308.5" x2="132.97" y2="312" stroke="#000" stroke-width="1.1"/><line x1="157.85" y1="308.5" x2="157.85" y2="312" stroke="#000" stroke-width="1.1"/><line x1="47.8" y1="217.8" x2="55.8" y2="217.8" stroke="#e8108c" stroke-width="1.3"/><line x1="47.8" y1="234.2" x2="55.8" y2="234.2" stroke="#3cb44e" stroke-width="1.3"/></svg>
<div class="t s" style="left:19.90px;top:303.07px;font-size:6.3px;line-height:6.3px;font-weight:normal;color:#1c1c1c;">0</div>
<div class="t s" style="left:19.90px;top:282.47px;font-size:6.3px;line-height:6.3px;font-weight:normal;color:#1c1c1c;">1</div>
<div class="t s" style="left:19.90px;top:261.87px;font-size:6.3px;line-height:6.3px;font-weight:normal;color:#1c1c1c;">2</div>
<div class="t s" style="left:19.90px;top:241.27px;font-size:6.3px;line-height:6.3px;font-weight:normal;color:#1c1c1c;">3</div>
<div class="t s" style="left:19.90px;top:220.67px;font-size:6.3px;line-height:6.3px;font-weight:normal;color:#1c1c1c;">4</div>
<div class="t c s" style="left:23.45px;top:314.12px;width:20px;font-size:6.6px;line-height:6px;">0.0</div>
<div class="t c s" style="left:48.33px;top:314.12px;width:20px;font-size:6.6px;line-height:6px;">0.2</div>
<div class="t c s" style="left:73.21px;top:314.12px;width:20px;font-size:6.6px;line-height:6px;">0.4</div>
<div class="t c s" style="left:98.09px;top:314.12px;width:20px;font-size:6.6px;line-height:6px;">0.6</div>
<div class="t c s" style="left:122.97px;top:314.12px;width:20px;font-size:6.6px;line-height:6px;">0.8</div>
<div class="t c s" style="left:147.85px;top:314.12px;width:20px;font-size:6.6px;line-height:6px;">1.0</div>
<div class="t s" style="left:59.20px;top:215.42px;font-size:6px;line-height:6px;font-weight:normal;color:#1c1c1c;">Distribution of scores</div>
<div class="t s" style="left:59.20px;top:222.92px;font-size:6px;line-height:6px;font-weight:normal;color:#1c1c1c;">when MDS is present</div>
<div class="t s" style="left:59.20px;top:231.52px;font-size:6px;line-height:6px;font-weight:normal;color:#1c1c1c;">Distribution of scores</div>
<div class="t s" style="left:59.20px;top:239.02px;font-size:6px;line-height:6px;font-weight:normal;color:#1c1c1c;">when MDS is absent</div>
<div class="t c a" style="left:45.40px;top:321.43px;width:100px;font-size:8px;line-height:8px;transform:scaleX(0.72);">Predicted probability of MDS</div>
<div class="t c a" style="left:-39.10px;top:254.85px;width:100px;font-size:8px;line-height:8px;transform:rotate(-90deg) scaleX(0.70);">Probability density</div>
<svg class="ch" style="left:171px;top:0px" width="175" height="336" viewBox="0 0 175 336"><rect x="28.55" y="208.9" width="134.5" height="100.3" fill="none" stroke="#000" stroke-width="1.35"/><path d="M33.45,305.40 L33.45,220.53 L33.49,221.14 L33.55,221.99 L33.61,222.99 L33.68,224.06 L33.76,225.12 L33.82,226.09 L33.88,226.97 L33.94,227.84 L34.00,228.70 L34.06,229.55 L34.13,230.40 L34.20,231.24 L34.26,232.06 L34.33,232.85 L34.39,233.63 L34.47,234.44 L34.57,235.28 L34.69,236.18 L34.86,237.17 L35.05,238.23 L35.27,239.33 L35.50,240.43 L35.72,241.52 L35.94,242.57 L36.15,243.59 L36.35,244.62 L36.56,245.63 L36.77,246.61 L36.97,247.51 L37.18,248.34 L37.39,249.06 L37.60,249.71 L37.80,250.29 L38.01,250.83 L38.22,251.34 L38.43,251.84 L38.61,252.28 L38.77,252.63 L38.93,252.95 L39.12,253.30 L39.35,253.73 L39.67,254.31 L40.08,255.07 L40.57,255.98 L41.11,256.96 L41.67,257.98 L42.24,258.97 L42.78,259.87 L43.30,260.70 L43.82,261.48 L44.34,262.24 L44.85,262.98 L45.37,263.70 L45.89,264.41 L46.41,265.10 L46.93,265.76 L47.45,266.41 L47.96,267.05 L48.48,267.69 L49.00,268.32 L49.52,268.95 L50.04,269.57 L50.55,270.19 L51.07,270.80 L51.59,271.41 L52.11,272.03 L52.63,272.65 L53.15,273.28 L53.66,273.91 L54.18,274.53 L54.70,275.14 L55.22,275.74 L55.74,276.31 L56.26,276.88 L56.77,277.44 L57.29,277.98 L57.81,278.51 L58.33,279.03 L58.85,279.54 L59.37,280.03 L59.89,280.51 L60.40,280.99 L60.92,281.45 L61.44,281.92 L61.92,282.36 L62.36,282.79 L62.80,283.20 L63.28,283.63 L63.85,284.09 L64.55,284.59 L65.41,285.16 L66.39,285.78 L67.47,286.42 L68.58,287.07 L69.70,287.71 L70.77,288.30 L71.81,288.86 L72.84,289.40 L73.88,289.92 L74.92,290.43 L75.95,290.92 L76.99,291.39 L78.03,291.85 L79.06,292.29 L80.10,292.72 L81.14,293.13 L82.17,293.53 L83.21,293.93 L84.25,294.31 L85.28,294.68 L86.32,295.04 L87.36,295.38 L88.39,295.71 L89.43,296.03 L90.47,296.32 L91.50,296.60 L92.54,296.87 L93.58,297.12 L94.61,297.35 L95.65,297.57 L96.69,297.78 L97.72,297.97 L98.76,298.14 L99.80,298.31 L100.83,298.46 L101.87,298.60 L102.91,298.73 L103.94,298.85 L104.98,298.96 L106.02,299.05 L107.05,299.14 L108.09,299.22 L109.13,299.29 L110.16,299.35 L111.20,299.40 L112.24,299.45 L113.27,299.49 L114.31,299.53 L115.36,299.56 L116.43,299.58 L117.50,299.60 L118.55,299.62 L119.57,299.64 L120.53,299.67 L121.43,299.71 L122.28,299.74 L123.10,299.78 L123.89,299.83 L124.69,299.88 L125.51,299.94 L126.34,300.01 L127.16,300.10 L127.99,300.19 L128.82,300.28 L129.65,300.39 L130.48,300.50 L131.31,300.61 L132.14,300.74 L132.97,300.87 L133.80,301.00 L134.63,301.14 L135.46,301.28 L136.29,301.43 L137.12,301.58 L137.95,301.73 L138.78,301.89 L139.60,302.05 L140.43,302.21 L141.28,302.36 L142.14,302.52 L143.00,302.68 L143.84,302.84 L144.65,302.99 L145.41,303.13 L146.11,303.27 L146.77,303.39 L147.39,303.51 L147.99,303.62 L148.57,303.74 L149.14,303.85 L149.70,303.97 L150.25,304.09 L150.77,304.21 L151.28,304.33 L151.78,304.45 L152.25,304.58 L152.73,304.72 L153.22,304.87 L153.69,305.03 L154.12,305.18 L154.48,305.31 L154.74,305.40 Z" fill="#3cb44e"/><path d="M33.45,305.40 L33.45,304.58 L34.80,304.57 L36.68,304.55 L38.89,304.54 L41.28,304.52 L43.67,304.50 L45.89,304.47 L47.99,304.45 L50.13,304.42 L52.27,304.38 L54.37,304.35 L56.40,304.31 L58.33,304.27 L60.13,304.22 L61.83,304.18 L63.46,304.13 L65.06,304.07 L66.65,304.02 L68.28,303.96 L69.93,303.90 L71.55,303.83 L73.18,303.76 L74.82,303.69 L76.50,303.62 L78.23,303.55 L80.01,303.47 L81.83,303.39 L83.68,303.31 L85.56,303.23 L87.48,303.14 L89.43,303.03 L91.45,302.92 L93.53,302.79 L95.65,302.66 L97.77,302.52 L99.85,302.37 L101.87,302.21 L103.82,302.04 L105.74,301.86 L107.62,301.68 L109.47,301.49 L111.29,301.28 L113.07,301.07 L114.85,300.85 L116.66,300.61 L118.43,300.36 L120.12,300.11 L121.66,299.86 L123.02,299.63 L124.14,299.42 L125.05,299.22 L125.82,299.03 L126.52,298.83 L127.22,298.62 L127.99,298.40 L128.82,298.15 L129.65,297.89 L130.48,297.62 L131.31,297.34 L132.14,297.05 L132.97,296.75 L133.80,296.43 L134.63,296.08 L135.46,295.73 L136.29,295.37 L137.12,295.02 L137.95,294.69 L138.79,294.36 L139.65,294.03 L140.51,293.70 L141.36,293.39 L142.16,293.10 L142.92,292.83 L143.63,292.59 L144.30,292.37 L144.94,292.16 L145.55,291.98 L146.12,291.83 L146.65,291.70 L147.14,291.61 L147.58,291.55 L147.98,291.51 L148.36,291.50 L148.74,291.49 L149.14,291.49 L149.56,291.50 L149.97,291.51 L150.39,291.53 L150.80,291.56 L151.22,291.62 L151.63,291.70 L152.05,291.81 L152.48,291.94 L152.91,292.09 L153.33,292.25 L153.74,292.44 L154.12,292.63 L154.47,292.83 L154.81,293.04 L155.13,293.27 L155.43,293.51 L155.72,293.78 L155.98,294.07 L156.24,294.43 L156.49,294.85 L156.72,295.29 L156.93,295.72 L157.10,296.08 L157.23,296.34 L157.85,298.60 L157.85,305.40 Z" fill="#e8108c"/><path d="M33.45,305.40 L33.45,304.58 L33.49,304.58 L33.55,304.58 L33.61,304.57 L33.68,304.57 L33.76,304.57 L33.76,304.57 L33.82,304.57 L33.88,304.57 L33.94,304.57 L34.00,304.57 L34.06,304.57 L34.07,304.57 L34.13,304.57 L34.20,304.57 L34.26,304.57 L34.33,304.57 L34.38,304.57 L34.39,304.57 L34.47,304.57 L34.57,304.57 L34.69,304.57 L34.69,304.57 L34.80,304.57 L34.86,304.57 L35.01,304.56 L35.05,304.56 L35.27,304.56 L35.32,304.56 L35.50,304.56 L35.63,304.56 L35.72,304.56 L35.94,304.56 L35.94,304.56 L36.15,304.56 L36.25,304.56 L36.35,304.56 L36.56,304.55 L36.56,304.55 L36.68,304.55 L36.77,304.55 L36.87,304.55 L36.97,304.55 L37.18,304.55 L37.18,304.55 L37.39,304.55 L37.49,304.55 L37.60,304.55 L37.80,304.55 L37.80,304.55 L38.01,304.54 L38.12,304.54 L38.22,304.54 L38.43,304.54 L38.43,304.54 L38.61,304.54 L38.74,304.54 L38.77,304.54 L38.89,304.54 L38.93,304.54 L39.05,304.54 L39.12,304.54 L39.35,304.53 L39.36,304.53 L39.67,304.53 L39.67,304.53 L39.98,304.53 L40.08,304.53 L40.29,304.53 L40.57,304.52 L40.60,304.52 L40.91,304.52 L41.11,304.52 L41.23,304.52 L41.28,304.52 L41.54,304.52 L41.67,304.52 L41.85,304.51 L42.16,304.51 L42.24,304.51 L42.47,304.51 L42.78,304.51 L42.78,304.51 L43.09,304.50 L43.30,304.50 L43.40,304.50 L43.67,304.50 L43.71,304.50 L43.82,304.50 L44.02,304.49 L44.34,304.49 L44.34,304.49 L44.65,304.49 L44.85,304.48 L44.96,304.48 L45.27,304.48 L45.37,304.48 L45.58,304.48 L45.89,304.47 L45.89,304.47 L45.89,304.47 L46.20,304.47 L46.41,304.47 L46.51,304.46 L46.82,304.46 L46.93,304.46 L47.13,304.46 L47.45,304.45 L47.45,304.45 L47.76,304.45 L47.96,304.45 L47.99,304.45 L48.07,304.44 L48.38,304.44 L48.48,304.44 L48.69,304.44 L49.00,304.43 L49.00,304.43 L49.31,304.43 L49.52,304.42 L49.62,304.42 L49.93,304.42 L50.04,304.42 L50.13,304.42 L50.24,304.41 L50.55,304.41 L50.56,304.41 L50.87,304.40 L51.07,304.40 L51.18,304.40 L51.49,304.39 L51.59,304.39 L51.80,304.39 L52.11,304.39 L52.11,304.39 L52.27,304.38 L52.42,304.38 L52.63,304.38 L52.73,304.37 L53.04,304.37 L53.15,304.37 L53.35,304.36 L53.66,304.36 L53.67,304.36 L53.98,304.35 L54.18,304.35 L54.29,304.35 L54.37,304.35 L54.60,304.34 L54.70,304.34 L54.91,304.34 L55.22,304.33 L55.22,304.33 L55.53,304.33 L55.74,304.32 L55.84,304.32 L56.15,304.31 L56.26,304.31 L56.40,304.31 L56.46,304.31 L56.77,304.30 L56.78,304.30 L57.09,304.29 L57.29,304.29 L57.40,304.29 L57.71,304.28 L57.81,304.28 L58.02,304.27 L58.33,304.27 L58.33,304.27 L58.33,304.27 L58.64,304.26 L58.85,304.25 L58.95,304.25 L59.26,304.24 L59.37,304.24 L59.57,304.24 L59.89,304.23 L59.89,304.23 L60.13,304.22 L60.20,304.22 L60.40,304.22 L60.51,304.21 L60.82,304.20 L60.92,304.20 L61.13,304.19 L61.44,304.19 L61.44,304.19 L61.75,304.18 L61.83,304.18 L61.92,304.17 L62.06,304.17 L62.36,304.16 L62.37,304.16 L62.68,304.15 L62.80,304.15 L63.00,304.14 L63.28,304.13 L63.31,304.13 L63.46,304.13 L63.62,304.12 L63.85,304.11 L63.93,304.11 L64.24,304.10 L64.55,304.09 L64.55,304.09 L64.86,304.08 L65.06,304.07 L65.17,304.07 L65.41,304.06 L65.48,304.06 L65.79,304.05 L66.11,304.04 L66.39,304.03 L66.42,304.02 L66.65,304.02 L66.73,304.01 L67.04,304.00 L67.35,303.99 L67.47,303.99 L67.66,303.98 L67.97,303.97 L68.28,303.96 L68.58,303.95 L68.59,303.95 L68.90,303.93 L69.22,303.92 L69.53,303.91 L69.70,303.91 L69.84,303.90 L69.93,303.90 L70.15,303.89 L70.46,303.88 L70.77,303.86 L70.77,303.86 L71.08,303.85 L71.39,303.84 L71.55,303.83 L71.70,303.83 L71.81,303.82 L72.01,303.81 L72.33,303.80 L72.64,303.79 L72.84,303.78 L72.95,303.77 L73.18,303.76 L73.26,303.76 L73.57,303.75 L73.88,303.74 L73.88,303.74 L74.19,303.72 L74.50,303.71 L74.81,303.70 L74.82,303.69 L74.92,303.69 L75.12,303.68 L75.44,303.67 L75.75,303.65 L75.95,303.65 L76.06,303.64 L76.37,303.63 L76.50,303.62 L76.68,303.61 L76.99,303.60 L76.99,303.60 L77.30,303.59 L77.61,303.57 L77.92,303.56 L78.03,303.56 L78.23,303.55 L78.23,303.55 L78.55,303.53 L78.86,303.52 L79.06,303.51 L79.17,303.51 L79.48,303.49 L79.79,303.48 L80.01,303.47 L80.10,303.47 L80.10,303.47 L80.41,303.45 L80.72,303.44 L81.03,303.43 L81.14,303.42 L81.34,303.41 L81.66,303.40 L81.83,303.39 L81.97,303.39 L82.17,303.38 L82.28,303.37 L82.59,303.36 L82.90,303.35 L83.21,303.33 L83.52,303.32 L83.68,303.31 L83.83,303.31 L84.14,303.29 L84.25,303.29 L84.45,303.28 L84.77,303.27 L85.08,303.25 L85.28,303.24 L85.39,303.24 L85.56,303.23 L85.70,303.22 L86.01,303.21 L86.32,303.19 L86.32,303.19 L86.63,303.18 L86.94,303.16 L87.25,303.15 L87.36,303.14 L87.48,303.14 L87.56,303.13 L87.88,303.11 L88.19,303.10 L88.39,303.09 L88.50,303.08 L88.81,303.06 L89.12,303.05 L89.43,303.03 L89.43,303.03 L89.74,303.01 L90.05,303.00 L90.36,302.98 L90.47,302.97 L90.67,302.96 L90.99,302.94 L91.30,302.92 L91.45,302.92 L91.50,302.91 L91.61,302.91 L91.92,302.89 L92.23,302.87 L92.54,302.85 L92.54,302.85 L92.85,302.83 L93.16,302.81 L93.47,302.79 L93.53,302.79 L93.58,302.79 L93.78,302.77 L94.09,302.76 L94.41,302.74 L94.61,302.72 L94.72,302.72 L95.03,302.70 L95.34,302.68 L95.65,302.66 L95.65,302.66 L95.96,302.64 L96.27,302.62 L96.58,302.60 L96.69,302.59 L96.89,302.57 L97.20,302.55 L97.52,302.53 L97.72,302.52 L97.77,302.52 L97.83,302.51 L98.14,302.49 L98.45,302.47 L98.76,302.44 L99.07,302.42 L99.38,302.40 L99.69,302.38 L99.80,302.37 L99.85,302.37 L100.00,302.35 L100.31,302.33 L100.63,302.30 L100.83,302.29 L100.94,302.28 L101.25,302.26 L101.56,302.23 L101.87,302.21 L101.87,302.21 L101.87,302.21 L102.18,302.18 L102.49,302.15 L102.80,302.13 L102.91,302.12 L103.11,302.10 L103.43,302.07 L103.74,302.05 L103.82,302.04 L103.94,302.03 L104.05,302.02 L104.36,301.99 L104.67,301.96 L104.98,301.93 L105.29,301.90 L105.60,301.88 L105.74,301.86 L105.91,301.85 L106.02,301.84 L106.22,301.82 L106.54,301.79 L106.85,301.76 L107.05,301.73 L107.16,301.72 L107.47,301.69 L107.62,301.68 L107.78,301.66 L108.09,301.63 L108.09,301.63 L108.40,301.60 L108.71,301.57 L109.02,301.53 L109.13,301.52 L109.33,301.50 L109.47,301.49 L109.65,301.47 L109.96,301.43 L110.16,301.41 L110.27,301.40 L110.58,301.36 L110.89,301.33 L111.20,301.29 L111.29,301.28 L111.51,301.26 L111.82,301.22 L112.13,301.18 L112.24,301.17 L112.44,301.15 L112.75,301.11 L113.07,301.07 L113.07,301.07 L113.27,301.05 L113.38,301.03 L113.69,301.00 L114.00,300.96 L114.31,300.92 L114.31,300.92 L114.62,300.88 L114.85,300.85 L114.93,300.84 L115.24,300.80 L115.36,300.78 L115.55,300.76 L115.87,300.71 L116.18,300.67 L116.43,300.64 L116.49,300.63 L116.66,300.61 L116.80,300.59 L117.11,300.55 L117.42,300.50 L117.50,300.49 L117.73,300.46 L118.04,300.41 L118.35,300.37 L118.43,300.36 L118.55,300.34 L118.66,300.32 L118.98,300.28 L119.29,300.23 L119.57,300.19 L119.60,300.19 L119.91,300.14 L120.12,300.11 L120.22,300.09 L120.53,300.04 L120.53,300.04 L120.84,299.99 L121.15,299.94 L121.43,299.90 L121.46,299.90 L121.66,299.86 L121.77,299.84 L122.09,299.79 L122.28,299.76 L122.40,299.75 L122.71,299.76 L123.02,299.78 L123.10,299.78 L123.33,299.79 L123.64,299.81 L123.89,299.83 L123.95,299.83 L124.14,299.84 L124.26,299.85 L124.57,299.87 L124.69,299.88 L124.88,299.89 L125.05,299.91 L125.20,299.92 L125.51,299.94 L125.51,299.94 L125.82,299.97 L125.82,299.97 L126.13,300.00 L126.34,300.01 L126.44,300.02 L126.52,300.03 L126.75,300.06 L127.06,300.09 L127.16,300.10 L127.22,300.10 L127.37,300.12 L127.68,300.15 L127.99,300.19 L127.99,300.19 L128.31,300.22 L128.62,300.26 L128.82,300.28 L128.82,300.28 L128.93,300.30 L129.24,300.34 L129.55,300.38 L129.65,300.39 L129.65,300.39 L129.86,300.42 L130.17,300.46 L130.48,300.50 L130.48,300.50 L130.48,300.50 L130.79,300.54 L131.10,300.58 L131.31,300.61 L131.31,300.61 L131.42,300.63 L131.73,300.67 L132.04,300.72 L132.14,300.74 L132.14,300.74 L132.35,300.77 L132.66,300.82 L132.97,300.87 L132.97,300.87 L132.97,300.87 L133.28,300.92 L133.59,300.97 L133.80,301.00 L133.80,301.00 L133.90,301.02 L134.21,301.07 L134.53,301.12 L134.63,301.14 L134.84,301.17 L135.15,301.23 L135.46,301.28 L135.46,301.28 L135.77,301.33 L136.08,301.39 L136.29,301.43 L136.29,301.43 L136.39,301.45 L136.70,301.50 L137.01,301.56 L137.12,301.58 L137.32,301.62 L137.63,301.68 L137.95,301.73 L137.95,301.73 L138.26,301.79 L138.57,301.85 L138.78,301.89 L138.79,301.90 L138.88,301.91 L139.19,301.97 L139.50,302.03 L139.60,302.05 L139.65,302.06 L139.81,302.09 L140.12,302.15 L140.43,302.21 L140.43,302.21 L140.51,302.22 L140.75,302.26 L141.06,302.32 L141.28,302.36 L141.36,302.38 L141.37,302.38 L141.68,302.44 L141.99,302.50 L142.14,302.52 L142.16,302.53 L142.30,302.55 L142.61,302.61 L142.92,302.67 L142.92,302.67 L143.00,302.68 L143.23,302.73 L143.54,302.78 L143.63,302.80 L143.84,302.84 L143.86,302.84 L144.17,302.90 L144.30,302.93 L144.48,302.96 L144.65,302.99 L144.79,303.02 L144.94,303.05 L145.10,303.08 L145.41,303.13 L145.41,303.13 L145.55,303.16 L145.72,303.19 L146.03,303.25 L146.11,303.27 L146.12,303.27 L146.34,303.31 L146.65,303.37 L146.65,303.37 L146.77,303.39 L146.97,303.43 L147.14,303.46 L147.28,303.49 L147.39,303.51 L147.58,303.54 L147.59,303.54 L147.90,303.60 L147.98,303.62 L147.99,303.62 L148.21,303.67 L148.36,303.70 L148.52,303.73 L148.57,303.74 L148.74,303.77 L148.83,303.79 L149.14,303.85 L149.14,303.85 L149.14,303.85 L149.45,303.92 L149.56,303.94 L149.70,303.97 L149.76,303.99 L149.97,304.03 L150.07,304.05 L150.25,304.09 L150.39,304.12 L150.70,304.19 L150.77,304.21 L150.80,304.22 L151.01,304.26 L151.22,304.31 L151.28,304.33 L151.32,304.34 L151.63,304.41 L151.63,304.41 L151.78,304.45 L151.94,304.49 L152.05,304.52 L152.25,304.58 L152.25,304.58 L152.48,304.64 L152.56,304.67 L152.73,304.72 L152.87,304.76 L152.91,304.78 L153.19,304.86 L153.22,304.87 L153.33,304.91 L153.50,304.97 L153.69,305.03 L153.74,305.05 L153.81,305.07 L154.12,305.18 L154.12,305.18 L154.12,305.18 L154.43,305.29 L154.47,305.31 L154.48,305.31 L154.74,305.40 L154.74,305.40 Z" fill="#928acf"/><path d="M33.45,305.40 L33.45,220.53 L33.49,221.14 L33.55,221.99 L33.61,222.99 L33.68,224.06 L33.76,225.12 L33.82,226.09 L33.88,226.97 L33.94,227.84 L34.00,228.70 L34.06,229.55 L34.13,230.40 L34.20,231.24 L34.26,232.06 L34.33,232.85 L34.39,233.63 L34.47,234.44 L34.57,235.28 L34.69,236.18 L34.86,237.17 L35.05,238.23 L35.27,239.33 L35.50,240.43 L35.72,241.52 L35.94,242.57 L36.15,243.59 L36.35,244.62 L36.56,245.63 L36.77,246.61 L36.97,247.51 L37.18,248.34 L37.39,249.06 L37.60,249.71 L37.80,250.29 L38.01,250.83 L38.22,251.34 L38.43,251.84 L38.61,252.28 L38.77,252.63 L38.93,252.95 L39.12,253.30 L39.35,253.73 L39.67,254.31 L40.08,255.07 L40.57,255.98 L41.11,256.96 L41.67,257.98 L42.24,258.97 L42.78,259.87 L43.30,260.70 L43.82,261.48 L44.34,262.24 L44.85,262.98 L45.37,263.70 L45.89,264.41 L46.41,265.10 L46.93,265.76 L47.45,266.41 L47.96,267.05 L48.48,267.69 L49.00,268.32 L49.52,268.95 L50.04,269.57 L50.55,270.19 L51.07,270.80 L51.59,271.41 L52.11,272.03 L52.63,272.65 L53.15,273.28 L53.66,273.91 L54.18,274.53 L54.70,275.14 L55.22,275.74 L55.74,276.31 L56.26,276.88 L56.77,277.44 L57.29,277.98 L57.81,278.51 L58.33,279.03 L58.85,279.54 L59.37,280.03 L59.89,280.51 L60.40,280.99 L60.92,281.45 L61.44,281.92 L61.92,282.36 L62.36,282.79 L62.80,283.20 L63.28,283.63 L63.85,284.09 L64.55,284.59 L65.41,285.16 L66.39,285.78 L67.47,286.42 L68.58,287.07 L69.70,287.71 L70.77,288.30 L71.81,288.86 L72.84,289.40 L73.88,289.92 L74.92,290.43 L75.95,290.92 L76.99,291.39 L78.03,291.85 L79.06,292.29 L80.10,292.72 L81.14,293.13 L82.17,293.53 L83.21,293.93 L84.25,294.31 L85.28,294.68 L86.32,295.04 L87.36,295.38 L88.39,295.71 L89.43,296.03 L90.47,296.32 L91.50,296.60 L92.54,296.87 L93.58,297.12 L94.61,297.35 L95.65,297.57 L96.69,297.78 L97.72,297.97 L98.76,298.14 L99.80,298.31 L100.83,298.46 L101.87,298.60 L102.91,298.73 L103.94,298.85 L104.98,298.96 L106.02,299.05 L107.05,299.14 L108.09,299.22 L109.13,299.29 L110.16,299.35 L111.20,299.40 L112.24,299.45 L113.27,299.49 L114.31,299.53 L115.36,299.56 L116.43,299.58 L117.50,299.60 L118.55,299.62 L119.57,299.64 L120.53,299.67 L121.43,299.71 L122.28,299.74 L123.10,299.78 L123.89,299.83 L124.69,299.88 L125.51,299.94 L126.34,300.01 L127.16,300.10 L127.99,300.19 L128.82,300.28 L129.65,300.39 L130.48,300.50 L131.31,300.61 L132.14,300.74 L132.97,300.87 L133.80,301.00 L134.63,301.14 L135.46,301.28 L136.29,301.43 L137.12,301.58 L137.95,301.73 L138.78,301.89 L139.60,302.05 L140.43,302.21 L141.28,302.36 L142.14,302.52 L143.00,302.68 L143.84,302.84 L144.65,302.99 L145.41,303.13 L146.11,303.27 L146.77,303.39 L147.39,303.51 L147.99,303.62 L148.57,303.74 L149.14,303.85 L149.70,303.97 L150.25,304.09 L150.77,304.21 L151.28,304.33 L151.78,304.45 L152.25,304.58 L152.73,304.72 L153.22,304.87 L153.69,305.03 L154.12,305.18 L154.48,305.31 L154.74,305.40 Z" fill="none" stroke="#000" stroke-width="1.75" stroke-linejoin="round"/><path d="M33.45,305.40 L33.45,304.58 L34.80,304.57 L36.68,304.55 L38.89,304.54 L41.28,304.52 L43.67,304.50 L45.89,304.47 L47.99,304.45 L50.13,304.42 L52.27,304.38 L54.37,304.35 L56.40,304.31 L58.33,304.27 L60.13,304.22 L61.83,304.18 L63.46,304.13 L65.06,304.07 L66.65,304.02 L68.28,303.96 L69.93,303.90 L71.55,303.83 L73.18,303.76 L74.82,303.69 L76.50,303.62 L78.23,303.55 L80.01,303.47 L81.83,303.39 L83.68,303.31 L85.56,303.23 L87.48,303.14 L89.43,303.03 L91.45,302.92 L93.53,302.79 L95.65,302.66 L97.77,302.52 L99.85,302.37 L101.87,302.21 L103.82,302.04 L105.74,301.86 L107.62,301.68 L109.47,301.49 L111.29,301.28 L113.07,301.07 L114.85,300.85 L116.66,300.61 L118.43,300.36 L120.12,300.11 L121.66,299.86 L123.02,299.63 L124.14,299.42 L125.05,299.22 L125.82,299.03 L126.52,298.83 L127.22,298.62 L127.99,298.40 L128.82,298.15 L129.65,297.89 L130.48,297.62 L131.31,297.34 L132.14,297.05 L132.97,296.75 L133.80,296.43 L134.63,296.08 L135.46,295.73 L136.29,295.37 L137.12,295.02 L137.95,294.69 L138.79,294.36 L139.65,294.03 L140.51,293.70 L141.36,293.39 L142.16,293.10 L142.92,292.83 L143.63,292.59 L144.30,292.37 L144.94,292.16 L145.55,291.98 L146.12,291.83 L146.65,291.70 L147.14,291.61 L147.58,291.55 L147.98,291.51 L148.36,291.50 L148.74,291.49 L149.14,291.49 L149.56,291.50 L149.97,291.51 L150.39,291.53 L150.80,291.56 L151.22,291.62 L151.63,291.70 L152.05,291.81 L152.48,291.94 L152.91,292.09 L153.33,292.25 L153.74,292.44 L154.12,292.63 L154.47,292.83 L154.81,293.04 L155.13,293.27 L155.43,293.51 L155.72,293.78 L155.98,294.07 L156.24,294.43 L156.49,294.85 L156.72,295.29 L156.93,295.72 L157.10,296.08 L157.23,296.34 L157.85,298.60 L157.85,305.40 Z" fill="none" stroke="#000" stroke-width="1.75" stroke-linejoin="round"/><line x1="44.02" y1="253.90" x2="44.02" y2="305.40" stroke="#673c8e" stroke-width="1.35"/><line x1="25" y1="305.40" x2="28.5" y2="305.40" stroke="#000" stroke-width="1.1"/><line x1="25" y1="284.80" x2="28.5" y2="284.80" stroke="#000" stroke-width="1.1"/><line x1="25" y1="264.20" x2="28.5" y2="264.20" stroke="#000" stroke-width="1.1"/><line x1="25" y1="243.60" x2="28.5" y2="243.60" stroke="#000" stroke-width="1.1"/><line x1="25" y1="223.00" x2="28.5" y2="223.00" stroke="#000" stroke-width="1.1"/><line x1="33.45" y1="308.5" x2="33.45" y2="312" stroke="#000" stroke-width="1.1"/><line x1="58.33" y1="308.5" x2="58.33" y2="312" stroke="#000" stroke-width="1.1"/><line x1="83.21" y1="308.5" x2="83.21" y2="312" stroke="#000" stroke-width="1.1"/><line x1="108.09" y1="308.5" x2="108.09" y2="312" stroke="#000" stroke-width="1.1"/><line x1="132.97" y1="308.5" x2="132.97" y2="312" stroke="#000" stroke-width="1.1"/><line x1="157.85" y1="308.5" x2="157.85" y2="312" stroke="#000" stroke-width="1.1"/><line x1="47.8" y1="217.8" x2="55.8" y2="217.8" stroke="#e8108c" stroke-width="1.3"/><line x1="47.8" y1="234.2" x2="55.8" y2="234.2" stroke="#3cb44e" stroke-width="1.3"/></svg>
<div class="t s" style="left:190.90px;top:303.07px;font-size:6.3px;line-height:6.3px;font-weight:normal;color:#1c1c1c;">0</div>
<div class="t s" style="left:190.90px;top:282.47px;font-size:6.3px;line-height:6.3px;font-weight:normal;color:#1c1c1c;">1</div>
<div class="t s" style="left:190.90px;top:261.87px;font-size:6.3px;line-height:6.3px;font-weight:normal;color:#1c1c1c;">2</div>
<div class="t s" style="left:190.90px;top:241.27px;font-size:6.3px;line-height:6.3px;font-weight:normal;color:#1c1c1c;">3</div>
<div class="t s" style="left:190.90px;top:220.67px;font-size:6.3px;line-height:6.3px;font-weight:normal;color:#1c1c1c;">4</div>
<div class="t c s" style="left:194.45px;top:314.12px;width:20px;font-size:6.6px;line-height:6px;">0.0</div>
<div class="t c s" style="left:219.33px;top:314.12px;width:20px;font-size:6.6px;line-height:6px;">0.2</div>
<div class="t c s" style="left:244.21px;top:314.12px;width:20px;font-size:6.6px;line-height:6px;">0.4</div>
<div class="t c s" style="left:269.09px;top:314.12px;width:20px;font-size:6.6px;line-height:6px;">0.6</div>
<div class="t c s" style="left:293.97px;top:314.12px;width:20px;font-size:6.6px;line-height:6px;">0.8</div>
<div class="t c s" style="left:318.85px;top:314.12px;width:20px;font-size:6.6px;line-height:6px;">1.0</div>
<div class="t s" style="left:230.20px;top:215.42px;font-size:6px;line-height:6px;font-weight:normal;color:#1c1c1c;">Distribution of scores</div>
<div class="t s" style="left:230.20px;top:222.92px;font-size:6px;line-height:6px;font-weight:normal;color:#1c1c1c;">when MDS is present</div>
<div class="t s" style="left:230.20px;top:231.52px;font-size:6px;line-height:6px;font-weight:normal;color:#1c1c1c;">Distribution of scores</div>
<div class="t s" style="left:230.20px;top:239.02px;font-size:6px;line-height:6px;font-weight:normal;color:#1c1c1c;">when MDS is absent</div>
<div class="t c a" style="left:216.40px;top:321.43px;width:100px;font-size:8px;line-height:8px;transform:scaleX(0.72);">Predicted probability of MDS</div>
<div class="t c a" style="left:131.90px;top:254.85px;width:100px;font-size:8px;line-height:8px;transform:rotate(-90deg) scaleX(0.70);">Probability density</div>
<svg class="ch" style="left:341px;top:0px" width="175" height="336" viewBox="0 0 175 336"><rect x="28.55" y="208.9" width="134.5" height="100.3" fill="none" stroke="#000" stroke-width="1.35"/><path d="M33.45,305.40 L33.45,220.53 L33.49,221.14 L33.55,221.99 L33.61,222.99 L33.68,224.06 L33.76,225.12 L33.82,226.09 L33.88,226.97 L33.94,227.84 L34.00,228.70 L34.06,229.55 L34.13,230.40 L34.20,231.24 L34.26,232.06 L34.33,232.85 L34.39,233.63 L34.47,234.44 L34.57,235.28 L34.69,236.18 L34.86,237.17 L35.05,238.23 L35.27,239.33 L35.50,240.43 L35.72,241.52 L35.94,242.57 L36.15,243.59 L36.35,244.62 L36.56,245.63 L36.77,246.61 L36.97,247.51 L37.18,248.34 L37.39,249.06 L37.60,249.71 L37.80,250.29 L38.01,250.83 L38.22,251.34 L38.43,251.84 L38.61,252.28 L38.77,252.63 L38.93,252.95 L39.12,253.30 L39.35,253.73 L39.67,254.31 L40.08,255.07 L40.57,255.98 L41.11,256.96 L41.67,257.98 L42.24,258.97 L42.78,259.87 L43.30,260.70 L43.82,261.48 L44.34,262.24 L44.85,262.98 L45.37,263.70 L45.89,264.41 L46.41,265.10 L46.93,265.76 L47.45,266.41 L47.96,267.05 L48.48,267.69 L49.00,268.32 L49.52,268.95 L50.04,269.57 L50.55,270.19 L51.07,270.80 L51.59,271.41 L52.11,272.03 L52.63,272.65 L53.15,273.28 L53.66,273.91 L54.18,274.53 L54.70,275.14 L55.22,275.74 L55.74,276.31 L56.26,276.88 L56.77,277.44 L57.29,277.98 L57.81,278.51 L58.33,279.03 L58.85,279.54 L59.37,280.03 L59.89,280.51 L60.40,280.99 L60.92,281.45 L61.44,281.92 L61.92,282.36 L62.36,282.79 L62.80,283.20 L63.28,283.63 L63.85,284.09 L64.55,284.59 L65.41,285.16 L66.39,285.78 L67.47,286.42 L68.58,287.07 L69.70,287.71 L70.77,288.30 L71.81,288.86 L72.84,289.40 L73.88,289.92 L74.92,290.43 L75.95,290.92 L76.99,291.39 L78.03,291.85 L79.06,292.29 L80.10,292.72 L81.14,293.13 L82.17,293.53 L83.21,293.93 L84.25,294.31 L85.28,294.68 L86.32,295.04 L87.36,295.38 L88.39,295.71 L89.43,296.03 L90.47,296.32 L91.50,296.60 L92.54,296.87 L93.58,297.12 L94.61,297.35 L95.65,297.57 L96.69,297.78 L97.72,297.97 L98.76,298.14 L99.80,298.31 L100.83,298.46 L101.87,298.60 L102.91,298.73 L103.94,298.85 L104.98,298.96 L106.02,299.05 L107.05,299.14 L108.09,299.22 L109.13,299.29 L110.16,299.35 L111.20,299.40 L112.24,299.45 L113.27,299.49 L114.31,299.53 L115.36,299.56 L116.43,299.58 L117.50,299.60 L118.55,299.62 L119.57,299.64 L120.53,299.67 L121.43,299.71 L122.28,299.74 L123.10,299.78 L123.89,299.83 L124.69,299.88 L125.51,299.94 L126.34,300.01 L127.16,300.10 L127.99,300.19 L128.82,300.28 L129.65,300.39 L130.48,300.50 L131.31,300.61 L132.14,300.74 L132.97,300.87 L133.80,301.00 L134.63,301.14 L135.46,301.28 L136.29,301.43 L137.12,301.58 L137.95,301.73 L138.78,301.89 L139.60,302.05 L140.43,302.21 L141.28,302.36 L142.14,302.52 L143.00,302.68 L143.84,302.84 L144.65,302.99 L145.41,303.13 L146.11,303.27 L146.77,303.39 L147.39,303.51 L147.99,303.62 L148.57,303.74 L149.14,303.85 L149.70,303.97 L150.25,304.09 L150.77,304.21 L151.28,304.33 L151.78,304.45 L152.25,304.58 L152.73,304.72 L153.22,304.87 L153.69,305.03 L154.12,305.18 L154.48,305.31 L154.74,305.40 Z" fill="#3cb44e"/><path d="M33.45,305.40 L33.45,304.58 L34.80,304.57 L36.68,304.55 L38.89,304.54 L41.28,304.52 L43.67,304.50 L45.89,304.47 L47.99,304.45 L50.13,304.42 L52.27,304.38 L54.37,304.35 L56.40,304.31 L58.33,304.27 L60.13,304.22 L61.83,304.18 L63.46,304.13 L65.06,304.07 L66.65,304.02 L68.28,303.96 L69.93,303.90 L71.55,303.83 L73.18,303.76 L74.82,303.69 L76.50,303.62 L78.23,303.55 L80.01,303.47 L81.83,303.39 L83.68,303.31 L85.56,303.23 L87.48,303.14 L89.43,303.03 L91.45,302.92 L93.53,302.79 L95.65,302.66 L97.77,302.52 L99.85,302.37 L101.87,302.21 L103.82,302.04 L105.74,301.86 L107.62,301.68 L109.47,301.49 L111.29,301.28 L113.07,301.07 L114.85,300.85 L116.66,300.61 L118.43,300.36 L120.12,300.11 L121.66,299.86 L123.02,299.63 L124.14,299.42 L125.05,299.22 L125.82,299.03 L126.52,298.83 L127.22,298.62 L127.99,298.40 L128.82,298.15 L129.65,297.89 L130.48,297.62 L131.31,297.34 L132.14,297.05 L132.97,296.75 L133.80,296.43 L134.63,296.08 L135.46,295.73 L136.29,295.37 L137.12,295.02 L137.95,294.69 L138.79,294.36 L139.65,294.03 L140.51,293.70 L141.36,293.39 L142.16,293.10 L142.92,292.83 L143.63,292.59 L144.30,292.37 L144.94,292.16 L145.55,291.98 L146.12,291.83 L146.65,291.70 L147.14,291.61 L147.58,291.55 L147.98,291.51 L148.36,291.50 L148.74,291.49 L149.14,291.49 L149.56,291.50 L149.97,291.51 L150.39,291.53 L150.80,291.56 L151.22,291.62 L151.63,291.70 L152.05,291.81 L152.48,291.94 L152.91,292.09 L153.33,292.25 L153.74,292.44 L154.12,292.63 L154.47,292.83 L154.81,293.04 L155.13,293.27 L155.43,293.51 L155.72,293.78 L155.98,294.07 L156.24,294.43 L156.49,294.85 L156.72,295.29 L156.93,295.72 L157.10,296.08 L157.23,296.34 L157.85,298.60 L157.85,305.40 Z" fill="#e8108c"/><path d="M33.45,305.40 L33.45,304.58 L33.49,304.58 L33.55,304.58 L33.61,304.57 L33.68,304.57 L33.76,304.57 L33.76,304.57 L33.82,304.57 L33.88,304.57 L33.94,304.57 L34.00,304.57 L34.06,304.57 L34.07,304.57 L34.13,304.57 L34.20,304.57 L34.26,304.57 L34.33,304.57 L34.38,304.57 L34.39,304.57 L34.47,304.57 L34.57,304.57 L34.69,304.57 L34.69,304.57 L34.80,304.57 L34.86,304.57 L35.01,304.56 L35.05,304.56 L35.27,304.56 L35.32,304.56 L35.50,304.56 L35.63,304.56 L35.72,304.56 L35.94,304.56 L35.94,304.56 L36.15,304.56 L36.25,304.56 L36.35,304.56 L36.56,304.55 L36.56,304.55 L36.68,304.55 L36.77,304.55 L36.87,304.55 L36.97,304.55 L37.18,304.55 L37.18,304.55 L37.39,304.55 L37.49,304.55 L37.60,304.55 L37.80,304.55 L37.80,304.55 L38.01,304.54 L38.12,304.54 L38.22,304.54 L38.43,304.54 L38.43,304.54 L38.61,304.54 L38.74,304.54 L38.77,304.54 L38.89,304.54 L38.93,304.54 L39.05,304.54 L39.12,304.54 L39.35,304.53 L39.36,304.53 L39.67,304.53 L39.67,304.53 L39.98,304.53 L40.08,304.53 L40.29,304.53 L40.57,304.52 L40.60,304.52 L40.91,304.52 L41.11,304.52 L41.23,304.52 L41.28,304.52 L41.54,304.52 L41.67,304.52 L41.85,304.51 L42.16,304.51 L42.24,304.51 L42.47,304.51 L42.78,304.51 L42.78,304.51 L43.09,304.50 L43.30,304.50 L43.40,304.50 L43.67,304.50 L43.71,304.50 L43.82,304.50 L44.02,304.49 L44.34,304.49 L44.34,304.49 L44.65,304.49 L44.85,304.48 L44.96,304.48 L45.27,304.48 L45.37,304.48 L45.58,304.48 L45.89,304.47 L45.89,304.47 L45.89,304.47 L46.20,304.47 L46.41,304.47 L46.51,304.46 L46.82,304.46 L46.93,304.46 L47.13,304.46 L47.45,304.45 L47.45,304.45 L47.76,304.45 L47.96,304.45 L47.99,304.45 L48.07,304.44 L48.38,304.44 L48.48,304.44 L48.69,304.44 L49.00,304.43 L49.00,304.43 L49.31,304.43 L49.52,304.42 L49.62,304.42 L49.93,304.42 L50.04,304.42 L50.13,304.42 L50.24,304.41 L50.55,304.41 L50.56,304.41 L50.87,304.40 L51.07,304.40 L51.18,304.40 L51.49,304.39 L51.59,304.39 L51.80,304.39 L52.11,304.39 L52.11,304.39 L52.27,304.38 L52.42,304.38 L52.63,304.38 L52.73,304.37 L53.04,304.37 L53.15,304.37 L53.35,304.36 L53.66,304.36 L53.67,304.36 L53.98,304.35 L54.18,304.35 L54.29,304.35 L54.37,304.35 L54.60,304.34 L54.70,304.34 L54.91,304.34 L55.22,304.33 L55.22,304.33 L55.53,304.33 L55.74,304.32 L55.84,304.32 L56.15,304.31 L56.26,304.31 L56.40,304.31 L56.46,304.31 L56.77,304.30 L56.78,304.30 L57.09,304.29 L57.29,304.29 L57.40,304.29 L57.71,304.28 L57.81,304.28 L58.02,304.27 L58.33,304.27 L58.33,304.27 L58.33,304.27 L58.64,304.26 L58.85,304.25 L58.95,304.25 L59.26,304.24 L59.37,304.24 L59.57,304.24 L59.89,304.23 L59.89,304.23 L60.13,304.22 L60.20,304.22 L60.40,304.22 L60.51,304.21 L60.82,304.20 L60.92,304.20 L61.13,304.19 L61.44,304.19 L61.44,304.19 L61.75,304.18 L61.83,304.18 L61.92,304.17 L62.06,304.17 L62.36,304.16 L62.37,304.16 L62.68,304.15 L62.80,304.15 L63.00,304.14 L63.28,304.13 L63.31,304.13 L63.46,304.13 L63.62,304.12 L63.85,304.11 L63.93,304.11 L64.24,304.10 L64.55,304.09 L64.55,304.09 L64.86,304.08 L65.06,304.07 L65.17,304.07 L65.41,304.06 L65.48,304.06 L65.79,304.05 L66.11,304.04 L66.39,304.03 L66.42,304.02 L66.65,304.02 L66.73,304.01 L67.04,304.00 L67.35,303.99 L67.47,303.99 L67.66,303.98 L67.97,303.97 L68.28,303.96 L68.58,303.95 L68.59,303.95 L68.90,303.93 L69.22,303.92 L69.53,303.91 L69.70,303.91 L69.84,303.90 L69.93,303.90 L70.15,303.89 L70.46,303.88 L70.77,303.86 L70.77,303.86 L71.08,303.85 L71.39,303.84 L71.55,303.83 L71.70,303.83 L71.81,303.82 L72.01,303.81 L72.33,303.80 L72.64,303.79 L72.84,303.78 L72.95,303.77 L73.18,303.76 L73.26,303.76 L73.57,303.75 L73.88,303.74 L73.88,303.74 L74.19,303.72 L74.50,303.71 L74.81,303.70 L74.82,303.69 L74.92,303.69 L75.12,303.68 L75.44,303.67 L75.75,303.65 L75.95,303.65 L76.06,303.64 L76.37,303.63 L76.50,303.62 L76.68,303.61 L76.99,303.60 L76.99,303.60 L77.30,303.59 L77.61,303.57 L77.92,303.56 L78.03,303.56 L78.23,303.55 L78.23,303.55 L78.55,303.53 L78.86,303.52 L79.06,303.51 L79.17,303.51 L79.48,303.49 L79.79,303.48 L80.01,303.47 L80.10,303.47 L80.10,303.47 L80.41,303.45 L80.72,303.44 L81.03,303.43 L81.14,303.42 L81.34,303.41 L81.66,303.40 L81.83,303.39 L81.97,303.39 L82.17,303.38 L82.28,303.37 L82.59,303.36 L82.90,303.35 L83.21,303.33 L83.52,303.32 L83.68,303.31 L83.83,303.31 L84.14,303.29 L84.25,303.29 L84.45,303.28 L84.77,303.27 L85.08,303.25 L85.28,303.24 L85.39,303.24 L85.56,303.23 L85.70,303.22 L86.01,303.21 L86.32,303.19 L86.32,303.19 L86.63,303.18 L86.94,303.16 L87.25,303.15 L87.36,303.14 L87.48,303.14 L87.56,303.13 L87.88,303.11 L88.19,303.10 L88.39,303.09 L88.50,303.08 L88.81,303.06 L89.12,303.05 L89.43,303.03 L89.43,303.03 L89.74,303.01 L90.05,303.00 L90.36,302.98 L90.47,302.97 L90.67,302.96 L90.99,302.94 L91.30,302.92 L91.45,302.92 L91.50,302.91 L91.61,302.91 L91.92,302.89 L92.23,302.87 L92.54,302.85 L92.54,302.85 L92.85,302.83 L93.16,302.81 L93.47,302.79 L93.53,302.79 L93.58,302.79 L93.78,302.77 L94.09,302.76 L94.41,302.74 L94.61,302.72 L94.72,302.72 L95.03,302.70 L95.34,302.68 L95.65,302.66 L95.65,302.66 L95.96,302.64 L96.27,302.62 L96.58,302.60 L96.69,302.59 L96.89,302.57 L97.20,302.55 L97.52,302.53 L97.72,302.52 L97.77,302.52 L97.83,302.51 L98.14,302.49 L98.45,302.47 L98.76,302.44 L99.07,302.42 L99.38,302.40 L99.69,302.38 L99.80,302.37 L99.85,302.37 L100.00,302.35 L100.31,302.33 L100.63,302.30 L100.83,302.29 L100.94,302.28 L101.25,302.26 L101.56,302.23 L101.87,302.21 L101.87,302.21 L101.87,302.21 L102.18,302.18 L102.49,302.15 L102.80,302.13 L102.91,302.12 L103.11,302.10 L103.43,302.07 L103.74,302.05 L103.82,302.04 L103.94,302.03 L104.05,302.02 L104.36,301.99 L104.67,301.96 L104.98,301.93 L105.29,301.90 L105.60,301.88 L105.74,301.86 L105.91,301.85 L106.02,301.84 L106.22,301.82 L106.54,301.79 L106.85,301.76 L107.05,301.73 L107.16,301.72 L107.47,301.69 L107.62,301.68 L107.78,301.66 L108.09,301.63 L108.09,301.63 L108.40,301.60 L108.71,301.57 L109.02,301.53 L109.13,301.52 L109.33,301.50 L109.47,301.49 L109.65,301.47 L109.96,301.43 L110.16,301.41 L110.27,301.40 L110.58,301.36 L110.89,301.33 L111.20,301.29 L111.29,301.28 L111.51,301.26 L111.82,301.22 L112.13,301.18 L112.24,301.17 L112.44,301.15 L112.75,301.11 L113.07,301.07 L113.07,301.07 L113.27,301.05 L113.38,301.03 L113.69,301.00 L114.00,300.96 L114.31,300.92 L114.31,300.92 L114.62,300.88 L114.85,300.85 L114.93,300.84 L115.24,300.80 L115.36,300.78 L115.55,300.76 L115.87,300.71 L116.18,300.67 L116.43,300.64 L116.49,300.63 L116.66,300.61 L116.80,300.59 L117.11,300.55 L117.42,300.50 L117.50,300.49 L117.73,300.46 L118.04,300.41 L118.35,300.37 L118.43,300.36 L118.55,300.34 L118.66,300.32 L118.98,300.28 L119.29,300.23 L119.57,300.19 L119.60,300.19 L119.91,300.14 L120.12,300.11 L120.22,300.09 L120.53,300.04 L120.53,300.04 L120.84,299.99 L121.15,299.94 L121.43,299.90 L121.46,299.90 L121.66,299.86 L121.77,299.84 L122.09,299.79 L122.28,299.76 L122.40,299.75 L122.71,299.76 L123.02,299.78 L123.10,299.78 L123.33,299.79 L123.64,299.81 L123.89,299.83 L123.95,299.83 L124.14,299.84 L124.26,299.85 L124.57,299.87 L124.69,299.88 L124.88,299.89 L125.05,299.91 L125.20,299.92 L125.51,299.94 L125.51,299.94 L125.82,299.97 L125.82,299.97 L126.13,300.00 L126.34,300.01 L126.44,300.02 L126.52,300.03 L126.75,300.06 L127.06,300.09 L127.16,300.10 L127.22,300.10 L127.37,300.12 L127.68,300.15 L127.99,300.19 L127.99,300.19 L128.31,300.22 L128.62,300.26 L128.82,300.28 L128.82,300.28 L128.93,300.30 L129.24,300.34 L129.55,300.38 L129.65,300.39 L129.65,300.39 L129.86,300.42 L130.17,300.46 L130.48,300.50 L130.48,300.50 L130.48,300.50 L130.79,300.54 L131.10,300.58 L131.31,300.61 L131.31,300.61 L131.42,300.63 L131.73,300.67 L132.04,300.72 L132.14,300.74 L132.14,300.74 L132.35,300.77 L132.66,300.82 L132.97,300.87 L132.97,300.87 L132.97,300.87 L133.28,300.92 L133.59,300.97 L133.80,301.00 L133.80,301.00 L133.90,301.02 L134.21,301.07 L134.53,301.12 L134.63,301.14 L134.84,301.17 L135.15,301.23 L135.46,301.28 L135.46,301.28 L135.77,301.33 L136.08,301.39 L136.29,301.43 L136.29,301.43 L136.39,301.45 L136.70,301.50 L137.01,301.56 L137.12,301.58 L137.32,301.62 L137.63,301.68 L137.95,301.73 L137.95,301.73 L138.26,301.79 L138.57,301.85 L138.78,301.89 L138.79,301.90 L138.88,301.91 L139.19,301.97 L139.50,302.03 L139.60,302.05 L139.65,302.06 L139.81,302.09 L140.12,302.15 L140.43,302.21 L140.43,302.21 L140.51,302.22 L140.75,302.26 L141.06,302.32 L141.28,302.36 L141.36,302.38 L141.37,302.38 L141.68,302.44 L141.99,302.50 L142.14,302.52 L142.16,302.53 L142.30,302.55 L142.61,302.61 L142.92,302.67 L142.92,302.67 L143.00,302.68 L143.23,302.73 L143.54,302.78 L143.63,302.80 L143.84,302.84 L143.86,302.84 L144.17,302.90 L144.30,302.93 L144.48,302.96 L144.65,302.99 L144.79,303.02 L144.94,303.05 L145.10,303.08 L145.41,303.13 L145.41,303.13 L145.55,303.16 L145.72,303.19 L146.03,303.25 L146.11,303.27 L146.12,303.27 L146.34,303.31 L146.65,303.37 L146.65,303.37 L146.77,303.39 L146.97,303.43 L147.14,303.46 L147.28,303.49 L147.39,303.51 L147.58,303.54 L147.59,303.54 L147.90,303.60 L147.98,303.62 L147.99,303.62 L148.21,303.67 L148.36,303.70 L148.52,303.73 L148.57,303.74 L148.74,303.77 L148.83,303.79 L149.14,303.85 L149.14,303.85 L149.14,303.85 L149.45,303.92 L149.56,303.94 L149.70,303.97 L149.76,303.99 L149.97,304.03 L150.07,304.05 L150.25,304.09 L150.39,304.12 L150.70,304.19 L150.77,304.21 L150.80,304.22 L151.01,304.26 L151.22,304.31 L151.28,304.33 L151.32,304.34 L151.63,304.41 L151.63,304.41 L151.78,304.45 L151.94,304.49 L152.05,304.52 L152.25,304.58 L152.25,304.58 L152.48,304.64 L152.56,304.67 L152.73,304.72 L152.87,304.76 L152.91,304.78 L153.19,304.86 L153.22,304.87 L153.33,304.91 L153.50,304.97 L153.69,305.03 L153.74,305.05 L153.81,305.07 L154.12,305.18 L154.12,305.18 L154.12,305.18 L154.43,305.29 L154.47,305.31 L154.48,305.31 L154.74,305.40 L154.74,305.40 Z" fill="#928acf"/><path d="M33.45,305.40 L33.45,220.53 L33.49,221.14 L33.55,221.99 L33.61,222.99 L33.68,224.06 L33.76,225.12 L33.82,226.09 L33.88,226.97 L33.94,227.84 L34.00,228.70 L34.06,229.55 L34.13,230.40 L34.20,231.24 L34.26,232.06 L34.33,232.85 L34.39,233.63 L34.47,234.44 L34.57,235.28 L34.69,236.18 L34.86,237.17 L35.05,238.23 L35.27,239.33 L35.50,240.43 L35.72,241.52 L35.94,242.57 L36.15,243.59 L36.35,244.62 L36.56,245.63 L36.77,246.61 L36.97,247.51 L37.18,248.34 L37.39,249.06 L37.60,249.71 L37.80,250.29 L38.01,250.83 L38.22,251.34 L38.43,251.84 L38.61,252.28 L38.77,252.63 L38.93,252.95 L39.12,253.30 L39.35,253.73 L39.67,254.31 L40.08,255.07 L40.57,255.98 L41.11,256.96 L41.67,257.98 L42.24,258.97 L42.78,259.87 L43.30,260.70 L43.82,261.48 L44.34,262.24 L44.85,262.98 L45.37,263.70 L45.89,264.41 L46.41,265.10 L46.93,265.76 L47.45,266.41 L47.96,267.05 L48.48,267.69 L49.00,268.32 L49.52,268.95 L50.04,269.57 L50.55,270.19 L51.07,270.80 L51.59,271.41 L52.11,272.03 L52.63,272.65 L53.15,273.28 L53.66,273.91 L54.18,274.53 L54.70,275.14 L55.22,275.74 L55.74,276.31 L56.26,276.88 L56.77,277.44 L57.29,277.98 L57.81,278.51 L58.33,279.03 L58.85,279.54 L59.37,280.03 L59.89,280.51 L60.40,280.99 L60.92,281.45 L61.44,281.92 L61.92,282.36 L62.36,282.79 L62.80,283.20 L63.28,283.63 L63.85,284.09 L64.55,284.59 L65.41,285.16 L66.39,285.78 L67.47,286.42 L68.58,287.07 L69.70,287.71 L70.77,288.30 L71.81,288.86 L72.84,289.40 L73.88,289.92 L74.92,290.43 L75.95,290.92 L76.99,291.39 L78.03,291.85 L79.06,292.29 L80.10,292.72 L81.14,293.13 L82.17,293.53 L83.21,293.93 L84.25,294.31 L85.28,294.68 L86.32,295.04 L87.36,295.38 L88.39,295.71 L89.43,296.03 L90.47,296.32 L91.50,296.60 L92.54,296.87 L93.58,297.12 L94.61,297.35 L95.65,297.57 L96.69,297.78 L97.72,297.97 L98.76,298.14 L99.80,298.31 L100.83,298.46 L101.87,298.60 L102.91,298.73 L103.94,298.85 L104.98,298.96 L106.02,299.05 L107.05,299.14 L108.09,299.22 L109.13,299.29 L110.16,299.35 L111.20,299.40 L112.24,299.45 L113.27,299.49 L114.31,299.53 L115.36,299.56 L116.43,299.58 L117.50,299.60 L118.55,299.62 L119.57,299.64 L120.53,299.67 L121.43,299.71 L122.28,299.74 L123.10,299.78 L123.89,299.83 L124.69,299.88 L125.51,299.94 L126.34,300.01 L127.16,300.10 L127.99,300.19 L128.82,300.28 L129.65,300.39 L130.48,300.50 L131.31,300.61 L132.14,300.74 L132.97,300.87 L133.80,301.00 L134.63,301.14 L135.46,301.28 L136.29,301.43 L137.12,301.58 L137.95,301.73 L138.78,301.89 L139.60,302.05 L140.43,302.21 L141.28,302.36 L142.14,302.52 L143.00,302.68 L143.84,302.84 L144.65,302.99 L145.41,303.13 L146.11,303.27 L146.77,303.39 L147.39,303.51 L147.99,303.62 L148.57,303.74 L149.14,303.85 L149.70,303.97 L150.25,304.09 L150.77,304.21 L151.28,304.33 L151.78,304.45 L152.25,304.58 L152.73,304.72 L153.22,304.87 L153.69,305.03 L154.12,305.18 L154.48,305.31 L154.74,305.40 Z" fill="none" stroke="#000" stroke-width="1.75" stroke-linejoin="round"/><path d="M33.45,305.40 L33.45,304.58 L34.80,304.57 L36.68,304.55 L38.89,304.54 L41.28,304.52 L43.67,304.50 L45.89,304.47 L47.99,304.45 L50.13,304.42 L52.27,304.38 L54.37,304.35 L56.40,304.31 L58.33,304.27 L60.13,304.22 L61.83,304.18 L63.46,304.13 L65.06,304.07 L66.65,304.02 L68.28,303.96 L69.93,303.90 L71.55,303.83 L73.18,303.76 L74.82,303.69 L76.50,303.62 L78.23,303.55 L80.01,303.47 L81.83,303.39 L83.68,303.31 L85.56,303.23 L87.48,303.14 L89.43,303.03 L91.45,302.92 L93.53,302.79 L95.65,302.66 L97.77,302.52 L99.85,302.37 L101.87,302.21 L103.82,302.04 L105.74,301.86 L107.62,301.68 L109.47,301.49 L111.29,301.28 L113.07,301.07 L114.85,300.85 L116.66,300.61 L118.43,300.36 L120.12,300.11 L121.66,299.86 L123.02,299.63 L124.14,299.42 L125.05,299.22 L125.82,299.03 L126.52,298.83 L127.22,298.62 L127.99,298.40 L128.82,298.15 L129.65,297.89 L130.48,297.62 L131.31,297.34 L132.14,297.05 L132.97,296.75 L133.80,296.43 L134.63,296.08 L135.46,295.73 L136.29,295.37 L137.12,295.02 L137.95,294.69 L138.79,294.36 L139.65,294.03 L140.51,293.70 L141.36,293.39 L142.16,293.10 L142.92,292.83 L143.63,292.59 L144.30,292.37 L144.94,292.16 L145.55,291.98 L146.12,291.83 L146.65,291.70 L147.14,291.61 L147.58,291.55 L147.98,291.51 L148.36,291.50 L148.74,291.49 L149.14,291.49 L149.56,291.50 L149.97,291.51 L150.39,291.53 L150.80,291.56 L151.22,291.62 L151.63,291.70 L152.05,291.81 L152.48,291.94 L152.91,292.09 L153.33,292.25 L153.74,292.44 L154.12,292.63 L154.47,292.83 L154.81,293.04 L155.13,293.27 L155.43,293.51 L155.72,293.78 L155.98,294.07 L156.24,294.43 L156.49,294.85 L156.72,295.29 L156.93,295.72 L157.10,296.08 L157.23,296.34 L157.85,298.60 L157.85,305.40 Z" fill="none" stroke="#000" stroke-width="1.75" stroke-linejoin="round"/><line x1="124.51" y1="253.90" x2="124.51" y2="305.40" stroke="#215b8e" stroke-width="1.35"/><line x1="25" y1="305.40" x2="28.5" y2="305.40" stroke="#000" stroke-width="1.1"/><line x1="25" y1="284.80" x2="28.5" y2="284.80" stroke="#000" stroke-width="1.1"/><line x1="25" y1="264.20" x2="28.5" y2="264.20" stroke="#000" stroke-width="1.1"/><line x1="25" y1="243.60" x2="28.5" y2="243.60" stroke="#000" stroke-width="1.1"/><line x1="25" y1="223.00" x2="28.5" y2="223.00" stroke="#000" stroke-width="1.1"/><line x1="33.45" y1="308.5" x2="33.45" y2="312" stroke="#000" stroke-width="1.1"/><line x1="58.33" y1="308.5" x2="58.33" y2="312" stroke="#000" stroke-width="1.1"/><line x1="83.21" y1="308.5" x2="83.21" y2="312" stroke="#000" stroke-width="1.1"/><line x1="108.09" y1="308.5" x2="108.09" y2="312" stroke="#000" stroke-width="1.1"/><line x1="132.97" y1="308.5" x2="132.97" y2="312" stroke="#000" stroke-width="1.1"/><line x1="157.85" y1="308.5" x2="157.85" y2="312" stroke="#000" stroke-width="1.1"/><line x1="47.8" y1="217.8" x2="55.8" y2="217.8" stroke="#e8108c" stroke-width="1.3"/><line x1="47.8" y1="234.2" x2="55.8" y2="234.2" stroke="#3cb44e" stroke-width="1.3"/></svg>
<div class="t s" style="left:360.90px;top:303.07px;font-size:6.3px;line-height:6.3px;font-weight:normal;color:#1c1c1c;">0</div>
<div class="t s" style="left:360.90px;top:282.47px;font-size:6.3px;line-height:6.3px;font-weight:normal;color:#1c1c1c;">1</div>
<div class="t s" style="left:360.90px;top:261.87px;font-size:6.3px;line-height:6.3px;font-weight:normal;color:#1c1c1c;">2</div>
<div class="t s" style="left:360.90px;top:241.27px;font-size:6.3px;line-height:6.3px;font-weight:normal;color:#1c1c1c;">3</div>
<div class="t s" style="left:360.90px;top:220.67px;font-size:6.3px;line-height:6.3px;font-weight:normal;color:#1c1c1c;">4</div>
<div class="t c s" style="left:364.45px;top:314.12px;width:20px;font-size:6.6px;line-height:6px;">0.0</div>
<div class="t c s" style="left:389.33px;top:314.12px;width:20px;font-size:6.6px;line-height:6px;">0.2</div>
<div class="t c s" style="left:414.21px;top:314.12px;width:20px;font-size:6.6px;line-height:6px;">0.4</div>
<div class="t c s" style="left:439.09px;top:314.12px;width:20px;font-size:6.6px;line-height:6px;">0.6</div>
<div class="t c s" style="left:463.97px;top:314.12px;width:20px;font-size:6.6px;line-height:6px;">0.8</div>
<div class="t c s" style="left:488.85px;top:314.12px;width:20px;font-size:6.6px;line-height:6px;">1.0</div>
<div class="t s" style="left:400.20px;top:215.42px;font-size:6px;line-height:6px;font-weight:normal;color:#1c1c1c;">Distribution of scores</div>
<div class="t s" style="left:400.20px;top:222.92px;font-size:6px;line-height:6px;font-weight:normal;color:#1c1c1c;">when MDS is present</div>
<div class="t s" style="left:400.20px;top:231.52px;font-size:6px;line-height:6px;font-weight:normal;color:#1c1c1c;">Distribution of scores</div>
<div class="t s" style="left:400.20px;top:239.02px;font-size:6px;line-height:6px;font-weight:normal;color:#1c1c1c;">when MDS is absent</div>
<div class="t c a" style="left:386.40px;top:321.43px;width:100px;font-size:8px;line-height:8px;transform:scaleX(0.72);">Predicted probability of MDS</div>
<div class="t c a" style="left:301.90px;top:254.85px;width:100px;font-size:8px;line-height:8px;transform:rotate(-90deg) scaleX(0.70);">Probability density</div>

</body></html>
